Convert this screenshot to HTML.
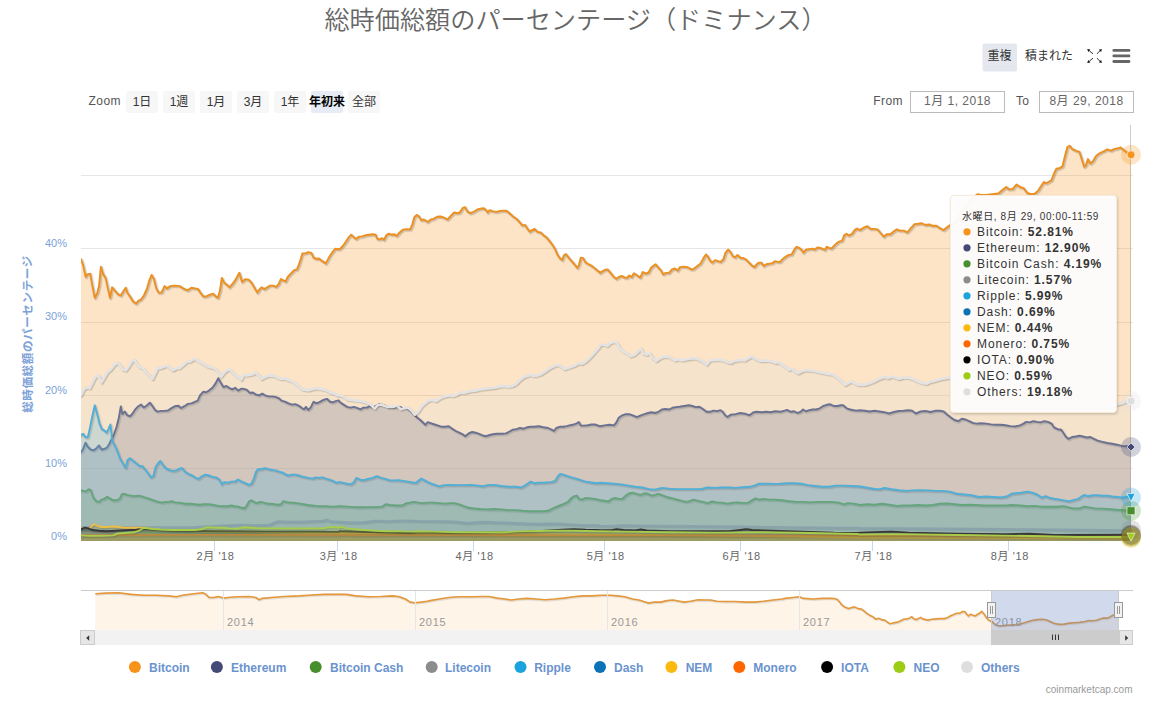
<!DOCTYPE html>
<html lang="ja"><head><meta charset="utf-8"><title>総時価総額のパーセンテージ（ドミナンス）</title>
<style>html,body{margin:0;padding:0;background:#fff;}body{width:1155px;height:709px;overflow:hidden;}svg{display:block;font-family:"Liberation Sans", "Noto Sans CJK JP", sans-serif;}
.jp{font-family:"Liberation Sans","Noto Sans CJK JP",sans-serif;}
</style></head><body>
<svg width="1155" height="709" viewBox="0 0 1155 709">
<rect width="1155" height="709" fill="#ffffff"/>
<text class="jp" x="575.5" y="29.3" text-anchor="middle" font-size="25.16" font-weight="350" fill="#666666">総時価総額のパーセンテージ（ドミナンス）</text>
<rect x="982.5" y="43.5" width="34.5" height="28" rx="2" fill="#e4e8ee"/>
<text class="jp" x="999.5" y="60" text-anchor="middle" font-size="12" fill="#333">重複</text>
<text class="jp" x="1049" y="60" text-anchor="middle" font-size="12" fill="#333">積まれた</text>
<path d="M1093.00 53.80 L1089.28 50.72" stroke="#333" stroke-width="1" fill="none"/><path d="M1087.20 49.00 L1090.36 49.41 L1088.20 52.03 Z" fill="#111"/><path d="M1096.90 53.80 L1099.95 50.87" stroke="#333" stroke-width="1" fill="none"/><path d="M1101.90 49.00 L1101.13 52.10 L1098.77 49.64 Z" fill="#111"/><path d="M1093.00 58.20 L1089.28 61.28" stroke="#333" stroke-width="1" fill="none"/><path d="M1087.20 63.00 L1088.20 59.97 L1090.36 62.59 Z" fill="#111"/><path d="M1096.90 58.20 L1099.95 61.13" stroke="#333" stroke-width="1" fill="none"/><path d="M1101.90 63.00 L1098.77 62.36 L1101.13 59.90 Z" fill="#111"/>
<g stroke="#666" stroke-width="2.8" stroke-linecap="round"><path d="M1113.8 50.400 H1129 M1113.8 55.900 H1129 M1113.8 61.500 H1129"/></g>
<text x="88.4" y="104.800" font-size="12" letter-spacing="0.5" fill="#555">Zoom</text>
<rect x="126" y="91" width="32" height="22" rx="2" fill="#f7f7f7"/>
<text class="jp" x="142" y="105.500" text-anchor="middle" font-size="12" fill="#333">1日</text>
<rect x="163" y="91" width="32" height="22" rx="2" fill="#f7f7f7"/>
<text class="jp" x="179" y="105.500" text-anchor="middle" font-size="12" fill="#333">1週</text>
<rect x="200" y="91" width="32" height="22" rx="2" fill="#f7f7f7"/>
<text class="jp" x="216" y="105.500" text-anchor="middle" font-size="12" fill="#333">1月</text>
<rect x="237" y="91" width="32" height="22" rx="2" fill="#f7f7f7"/>
<text class="jp" x="253" y="105.500" text-anchor="middle" font-size="12" fill="#333">3月</text>
<rect x="274" y="91" width="32" height="22" rx="2" fill="#f7f7f7"/>
<text class="jp" x="290" y="105.500" text-anchor="middle" font-size="12" fill="#333">1年</text>
<rect x="311" y="91" width="32" height="22" rx="2" fill="#e6ebf5"/>
<text class="jp" x="327" y="105.500" text-anchor="middle" font-size="12" fill="#000" font-weight="bold">年初来</text>
<rect x="348" y="91" width="32" height="22" rx="2" fill="#f7f7f7"/>
<text class="jp" x="364" y="105.500" text-anchor="middle" font-size="12" fill="#333">全部</text>
<text x="873.3" y="104.500" font-size="12" letter-spacing="0.4" fill="#555">From</text>
<rect x="910.5" y="91.5" width="94" height="21" fill="#fff" stroke="#bbb"/>
<text class="jp" x="957.5" y="104.800" text-anchor="middle" font-size="12" letter-spacing="0.5" fill="#666">1月 1, 2018</text>
<text x="1016" y="104.500" font-size="12" letter-spacing="0.3" fill="#555">To</text>
<rect x="1039.5" y="91.5" width="94" height="21" fill="#fff" stroke="#bbb"/>
<text class="jp" x="1086.5" y="104.800" text-anchor="middle" font-size="12" letter-spacing="0.5" fill="#666">8月 29, 2018</text>
<path d="M81 175.5 H1133" stroke="#e6e6e6" stroke-width="1"/>
<path d="M81 248.5 H1133" stroke="#e6e6e6" stroke-width="1"/>
<path d="M81 322.5 H1133" stroke="#e6e6e6" stroke-width="1"/>
<path d="M81 395.5 H1133" stroke="#e6e6e6" stroke-width="1"/>
<path d="M81 468.5 H1133" stroke="#e6e6e6" stroke-width="1"/>
<text x="67" y="540.0" text-anchor="end" font-size="11" fill="#7ca2d8">0%</text>
<text x="67" y="466.8" text-anchor="end" font-size="11" fill="#7ca2d8">10%</text>
<text x="67" y="393.6" text-anchor="end" font-size="11" fill="#7ca2d8">20%</text>
<text x="67" y="320.4" text-anchor="end" font-size="11" fill="#7ca2d8">30%</text>
<text x="67" y="247.2" text-anchor="end" font-size="11" fill="#7ca2d8">40%</text>
<text class="jp" transform="translate(31.500 334) rotate(-90)" text-anchor="middle" font-size="11.5" letter-spacing="0.65" font-weight="bold" fill="#7ca2d8">総時価総額のパーセンテージ</text>
<path d="M214.5 541 V551" stroke="#ccd6eb" stroke-width="1"/>
<text class="jp" x="215.5" y="560" text-anchor="middle" font-size="11" letter-spacing="0.6" fill="#666">2月 '18</text>
<path d="M337.5 541 V551" stroke="#ccd6eb" stroke-width="1"/>
<text class="jp" x="338.7" y="560" text-anchor="middle" font-size="11" letter-spacing="0.6" fill="#666">3月 '18</text>
<path d="M473.5 541 V551" stroke="#ccd6eb" stroke-width="1"/>
<text class="jp" x="474.6" y="560" text-anchor="middle" font-size="11" letter-spacing="0.6" fill="#666">4月 '18</text>
<path d="M604.5 541 V551" stroke="#ccd6eb" stroke-width="1"/>
<text class="jp" x="605.7" y="560" text-anchor="middle" font-size="11" letter-spacing="0.6" fill="#666">5月 '18</text>
<path d="M740.5 541 V551" stroke="#ccd6eb" stroke-width="1"/>
<text class="jp" x="741.6" y="560" text-anchor="middle" font-size="11" letter-spacing="0.6" fill="#666">6月 '18</text>
<path d="M872.5 541 V551" stroke="#ccd6eb" stroke-width="1"/>
<text class="jp" x="873.5" y="560" text-anchor="middle" font-size="11" letter-spacing="0.6" fill="#666">7月 '18</text>
<path d="M1008.5 541 V551" stroke="#ccd6eb" stroke-width="1"/>
<text class="jp" x="1009.9" y="560" text-anchor="middle" font-size="11" letter-spacing="0.6" fill="#666">8月 '18</text>
<path d="M1130.5 125 V541" stroke="#cccccc" stroke-width="1"/>
<clipPath id="cp"><rect x="81" y="120" width="1051" height="422"/></clipPath>
<g clip-path="url(#cp)">
<path d="M81.0 259.2 L83.1 265.1 L85.7 276.8 L87.4 274.4 L90.2 273.7 L92.0 283.8 L94.8 297.8 L97.2 293.1 L99.0 286.1 L100.9 266.7 L103.2 274.4 L105.6 277.9 L107.9 288.4 L110.0 297.8 L112.1 287.3 L115.4 291.2 L118.2 294.3 L120.8 295.5 L123.6 290.8 L125.7 287.7 L127.6 293.1 L129.9 296.2 L132.9 301.3 L136.0 303.6 L138.3 300.8 L141.1 299.4 L143.9 295.5 L147.0 288.4 L149.3 280.3 L151.6 274.9 L154.0 279.1 L156.3 288.4 L158.6 292.6 L161.5 292.6 L164.5 286.1 L166.8 288.4 L170.3 286.1 L173.8 285.6 L179.7 286.1 L183.2 288.4 L187.4 290.3 L191.4 287.7 L194.9 288.4 L197.9 288.9 L200.7 293.1 L203.5 296.6 L206.6 296.2 L210.1 294.7 L213.1 293.6 L215.9 296.6 L217.8 297.8 L219.9 290.8 L221.8 277.9 L224.1 282.6 L227.1 284.9 L229.5 287.3 L232.3 284.2 L235.8 279.1 L239.3 272.8 L242.1 281.9 L245.1 279.1 L248.6 279.6 L251.4 282.6 L254.5 287.7 L257.3 292.6 L259.2 289.6 L261.5 287.3 L264.3 289.1 L267.3 287.3 L270.1 285.6 L273.2 285.6 L276.2 286.8 L278.6 284.2 L280.9 279.1 L283.2 280.3 L285.6 281.4 L287.7 276.8 L290.7 273.7 L294.2 270.2 L297.0 269.3 L299.6 262.7 L302.4 253.4 L305.2 253.4 L308.2 252.2 L311.3 252.9 L313.6 257.6 L316.4 258.8 L318.8 258.5 L322.3 261.1 L325.8 263.4 L328.6 258.1 L331.6 253.4 L335.1 248.7 L337.9 249.2 L340.0 248.8 L342.8 246.0 L345.8 241.8 L348.9 237.1 L351.2 234.7 L353.6 237.1 L355.9 238.9 L359.2 236.6 L362.2 236.4 L365.7 235.2 L369.2 234.7 L372.7 234.3 L375.5 234.7 L377.4 238.9 L379.7 239.4 L382.1 238.2 L383.9 239.9 L386.3 235.2 L388.6 233.6 L391.4 234.7 L394.2 234.3 L396.6 235.9 L399.6 232.4 L403.1 229.6 L406.6 229.1 L410.1 229.4 L412.0 225.4 L414.3 217.2 L416.7 214.9 L419.0 216.5 L421.3 220.2 L423.7 219.5 L427.7 221.9 L430.7 219.5 L433.5 218.8 L437.0 216.7 L440.5 216.5 L444.0 217.7 L447.5 219.5 L451.0 215.6 L454.1 212.5 L456.9 213.2 L459.7 212.5 L462.7 207.9 L465.1 207.2 L467.4 211.4 L470.4 213.2 L473.7 211.8 L477.4 209.5 L480.3 208.6 L483.8 208.3 L486.1 210.2 L487.7 212.5 L489.6 210.2 L493.1 211.4 L496.6 211.8 L500.1 210.9 L503.6 210.7 L506.4 210.7 L509.5 213.2 L513.0 216.5 L516.5 218.8 L520.0 222.6 L522.3 225.4 L525.1 224.9 L527.5 228.9 L529.8 231.7 L532.1 230.1 L534.5 228.9 L537.5 231.9 L540.6 232.4 L543.4 235.2 L546.2 237.1 L549.2 240.6 L552.2 244.6 L555.1 249.2 L557.4 254.6 L559.7 258.1 L562.1 260.0 L563.9 255.3 L565.8 254.1 L568.6 257.6 L571.4 260.9 L574.5 264.4 L577.3 267.9 L578.9 265.1 L580.8 257.6 L583.1 258.1 L585.4 262.3 L588.2 264.0 L591.3 265.6 L594.3 267.9 L597.1 270.3 L599.5 272.1 L600.0 272.9 L602.3 271.3 L605.1 269.7 L607.5 269.4 L610.5 272.9 L613.6 276.7 L616.4 278.8 L619.2 276.7 L622.2 276.0 L624.5 277.6 L626.9 277.8 L629.2 275.5 L631.6 277.1 L633.9 273.2 L636.9 275.3 L640.2 277.6 L642.8 272.0 L645.6 273.6 L648.6 272.5 L651.0 267.8 L653.8 265.5 L655.6 264.3 L658.4 267.8 L660.8 270.1 L663.1 274.3 L665.9 272.9 L669.0 272.9 L672.0 269.4 L674.8 268.5 L677.6 270.6 L679.9 267.1 L683.7 266.6 L687.7 267.3 L691.2 269.4 L693.5 269.0 L697.0 266.2 L700.5 263.6 L703.3 258.4 L705.9 254.5 L708.0 256.8 L709.9 260.3 L712.2 262.6 L715.0 260.1 L718.0 261.2 L720.4 261.9 L723.2 259.6 L725.5 252.6 L728.1 249.6 L730.4 251.9 L732.8 256.1 L735.1 257.3 L737.4 254.9 L740.3 257.7 L743.1 258.0 L746.1 259.6 L749.1 262.6 L751.9 265.5 L754.3 267.1 L756.6 264.3 L759.0 262.6 L761.3 262.6 L763.6 265.9 L766.4 264.3 L769.5 263.6 L772.5 263.1 L774.8 261.2 L777.7 261.9 L780.0 261.9 L782.8 258.9 L785.8 256.6 L788.9 254.9 L791.7 254.5 L794.5 249.1 L796.4 246.8 L799.2 247.9 L801.5 249.8 L803.4 252.6 L805.7 249.8 L809.2 249.1 L812.2 248.6 L814.6 249.6 L817.4 247.5 L820.2 247.9 L823.2 249.1 L824.9 249.8 L826.7 246.8 L829.1 247.9 L831.4 248.6 L834.2 245.6 L837.3 242.8 L839.6 241.4 L841.9 240.9 L844.3 235.1 L846.6 233.9 L848.9 235.5 L852.0 233.9 L854.8 229.9 L857.1 228.5 L858.3 229.5 L860.0 229.9 L863.6 227.7 L867.3 226.2 L870.2 228.7 L874.1 228.9 L877.5 229.4 L880.6 233.0 L883.8 236.7 L886.7 234.2 L890.3 234.2 L893.9 231.3 L896.8 229.4 L900.0 230.6 L903.6 230.6 L907.3 232.3 L910.9 228.2 L914.5 224.1 L918.2 223.8 L921.8 223.3 L925.5 225.0 L929.1 224.5 L932.7 225.8 L936.4 225.8 L940.0 228.2 L943.6 230.1 L947.3 227.0 L950.9 224.5 L955.8 222.1 L961.8 210.0 L969.1 201.5 L973.9 196.7 L977.6 194.2 L981.2 195.0 L986.1 195.0 L992.1 194.2 L998.2 193.5 L1001.8 190.6 L1006.2 187.0 L1009.1 189.4 L1012.7 188.9 L1016.4 184.5 L1020.0 187.0 L1023.6 188.2 L1027.3 193.0 L1030.9 194.2 L1034.5 193.8 L1038.2 190.6 L1041.3 185.8 L1043.8 182.1 L1046.2 183.3 L1049.1 181.6 L1051.5 180.2 L1053.9 173.6 L1056.4 168.8 L1059.3 168.3 L1062.4 166.4 L1064.8 156.7 L1067.3 147.0 L1069.7 145.8 L1072.1 148.9 L1075.8 150.6 L1079.4 151.8 L1081.8 159.1 L1084.2 166.8 L1085.9 165.2 L1087.9 159.1 L1090.3 163.5 L1092.7 161.5 L1096.4 155.5 L1100.0 153.0 L1103.6 151.3 L1107.3 149.4 L1110.9 150.6 L1114.5 148.9 L1118.2 148.2 L1120.6 147.5 L1123.0 149.4 L1126.7 152.3 L1131.0 154.5 L1131.0 541.0 L81.0 541.0 Z" fill="#f7931a" fill-opacity="0.25"/>
<path id="sBitcoin" d="M81.0 259.2 L83.1 265.1 L85.7 276.8 L87.4 274.4 L90.2 273.7 L92.0 283.8 L94.8 297.8 L97.2 293.1 L99.0 286.1 L100.9 266.7 L103.2 274.4 L105.6 277.9 L107.9 288.4 L110.0 297.8 L112.1 287.3 L115.4 291.2 L118.2 294.3 L120.8 295.5 L123.6 290.8 L125.7 287.7 L127.6 293.1 L129.9 296.2 L132.9 301.3 L136.0 303.6 L138.3 300.8 L141.1 299.4 L143.9 295.5 L147.0 288.4 L149.3 280.3 L151.6 274.9 L154.0 279.1 L156.3 288.4 L158.6 292.6 L161.5 292.6 L164.5 286.1 L166.8 288.4 L170.3 286.1 L173.8 285.6 L179.7 286.1 L183.2 288.4 L187.4 290.3 L191.4 287.7 L194.9 288.4 L197.9 288.9 L200.7 293.1 L203.5 296.6 L206.6 296.2 L210.1 294.7 L213.1 293.6 L215.9 296.6 L217.8 297.8 L219.9 290.8 L221.8 277.9 L224.1 282.6 L227.1 284.9 L229.5 287.3 L232.3 284.2 L235.8 279.1 L239.3 272.8 L242.1 281.9 L245.1 279.1 L248.6 279.6 L251.4 282.6 L254.5 287.7 L257.3 292.6 L259.2 289.6 L261.5 287.3 L264.3 289.1 L267.3 287.3 L270.1 285.6 L273.2 285.6 L276.2 286.8 L278.6 284.2 L280.9 279.1 L283.2 280.3 L285.6 281.4 L287.7 276.8 L290.7 273.7 L294.2 270.2 L297.0 269.3 L299.6 262.7 L302.4 253.4 L305.2 253.4 L308.2 252.2 L311.3 252.9 L313.6 257.6 L316.4 258.8 L318.8 258.5 L322.3 261.1 L325.8 263.4 L328.6 258.1 L331.6 253.4 L335.1 248.7 L337.9 249.2 L340.0 248.8 L342.8 246.0 L345.8 241.8 L348.9 237.1 L351.2 234.7 L353.6 237.1 L355.9 238.9 L359.2 236.6 L362.2 236.4 L365.7 235.2 L369.2 234.7 L372.7 234.3 L375.5 234.7 L377.4 238.9 L379.7 239.4 L382.1 238.2 L383.9 239.9 L386.3 235.2 L388.6 233.6 L391.4 234.7 L394.2 234.3 L396.6 235.9 L399.6 232.4 L403.1 229.6 L406.6 229.1 L410.1 229.4 L412.0 225.4 L414.3 217.2 L416.7 214.9 L419.0 216.5 L421.3 220.2 L423.7 219.5 L427.7 221.9 L430.7 219.5 L433.5 218.8 L437.0 216.7 L440.5 216.5 L444.0 217.7 L447.5 219.5 L451.0 215.6 L454.1 212.5 L456.9 213.2 L459.7 212.5 L462.7 207.9 L465.1 207.2 L467.4 211.4 L470.4 213.2 L473.7 211.8 L477.4 209.5 L480.3 208.6 L483.8 208.3 L486.1 210.2 L487.7 212.5 L489.6 210.2 L493.1 211.4 L496.6 211.8 L500.1 210.9 L503.6 210.7 L506.4 210.7 L509.5 213.2 L513.0 216.5 L516.5 218.8 L520.0 222.6 L522.3 225.4 L525.1 224.9 L527.5 228.9 L529.8 231.7 L532.1 230.1 L534.5 228.9 L537.5 231.9 L540.6 232.4 L543.4 235.2 L546.2 237.1 L549.2 240.6 L552.2 244.6 L555.1 249.2 L557.4 254.6 L559.7 258.1 L562.1 260.0 L563.9 255.3 L565.8 254.1 L568.6 257.6 L571.4 260.9 L574.5 264.4 L577.3 267.9 L578.9 265.1 L580.8 257.6 L583.1 258.1 L585.4 262.3 L588.2 264.0 L591.3 265.6 L594.3 267.9 L597.1 270.3 L599.5 272.1 L600.0 272.9 L602.3 271.3 L605.1 269.7 L607.5 269.4 L610.5 272.9 L613.6 276.7 L616.4 278.8 L619.2 276.7 L622.2 276.0 L624.5 277.6 L626.9 277.8 L629.2 275.5 L631.6 277.1 L633.9 273.2 L636.9 275.3 L640.2 277.6 L642.8 272.0 L645.6 273.6 L648.6 272.5 L651.0 267.8 L653.8 265.5 L655.6 264.3 L658.4 267.8 L660.8 270.1 L663.1 274.3 L665.9 272.9 L669.0 272.9 L672.0 269.4 L674.8 268.5 L677.6 270.6 L679.9 267.1 L683.7 266.6 L687.7 267.3 L691.2 269.4 L693.5 269.0 L697.0 266.2 L700.5 263.6 L703.3 258.4 L705.9 254.5 L708.0 256.8 L709.9 260.3 L712.2 262.6 L715.0 260.1 L718.0 261.2 L720.4 261.9 L723.2 259.6 L725.5 252.6 L728.1 249.6 L730.4 251.9 L732.8 256.1 L735.1 257.3 L737.4 254.9 L740.3 257.7 L743.1 258.0 L746.1 259.6 L749.1 262.6 L751.9 265.5 L754.3 267.1 L756.6 264.3 L759.0 262.6 L761.3 262.6 L763.6 265.9 L766.4 264.3 L769.5 263.6 L772.5 263.1 L774.8 261.2 L777.7 261.9 L780.0 261.9 L782.8 258.9 L785.8 256.6 L788.9 254.9 L791.7 254.5 L794.5 249.1 L796.4 246.8 L799.2 247.9 L801.5 249.8 L803.4 252.6 L805.7 249.8 L809.2 249.1 L812.2 248.6 L814.6 249.6 L817.4 247.5 L820.2 247.9 L823.2 249.1 L824.9 249.8 L826.7 246.8 L829.1 247.9 L831.4 248.6 L834.2 245.6 L837.3 242.8 L839.6 241.4 L841.9 240.9 L844.3 235.1 L846.6 233.9 L848.9 235.5 L852.0 233.9 L854.8 229.9 L857.1 228.5 L858.3 229.5 L860.0 229.9 L863.6 227.7 L867.3 226.2 L870.2 228.7 L874.1 228.9 L877.5 229.4 L880.6 233.0 L883.8 236.7 L886.7 234.2 L890.3 234.2 L893.9 231.3 L896.8 229.4 L900.0 230.6 L903.6 230.6 L907.3 232.3 L910.9 228.2 L914.5 224.1 L918.2 223.8 L921.8 223.3 L925.5 225.0 L929.1 224.5 L932.7 225.8 L936.4 225.8 L940.0 228.2 L943.6 230.1 L947.3 227.0 L950.9 224.5 L955.8 222.1 L961.8 210.0 L969.1 201.5 L973.9 196.7 L977.6 194.2 L981.2 195.0 L986.1 195.0 L992.1 194.2 L998.2 193.5 L1001.8 190.6 L1006.2 187.0 L1009.1 189.4 L1012.7 188.9 L1016.4 184.5 L1020.0 187.0 L1023.6 188.2 L1027.3 193.0 L1030.9 194.2 L1034.5 193.8 L1038.2 190.6 L1041.3 185.8 L1043.8 182.1 L1046.2 183.3 L1049.1 181.6 L1051.5 180.2 L1053.9 173.6 L1056.4 168.8 L1059.3 168.3 L1062.4 166.4 L1064.8 156.7 L1067.3 147.0 L1069.7 145.8 L1072.1 148.9 L1075.8 150.6 L1079.4 151.8 L1081.8 159.1 L1084.2 166.8 L1085.9 165.2 L1087.9 159.1 L1090.3 163.5 L1092.7 161.5 L1096.4 155.5 L1100.0 153.0 L1103.6 151.3 L1107.3 149.4 L1110.9 150.6 L1114.5 148.9 L1118.2 148.2 L1120.6 147.5 L1123.0 149.4 L1126.7 152.3 L1131.0 154.5" fill="none"/>
<g fill="none" stroke-linejoin="round" stroke-linecap="round"><use href="#sBitcoin" stroke="#000" stroke-opacity="0.05" stroke-width="4" transform="translate(1 1)"/><use href="#sBitcoin" stroke="#000" stroke-opacity="0.13" stroke-width="2.4" transform="translate(1 1)"/><use href="#sBitcoin" stroke="#ed901f" stroke-width="1.9"/></g>
<path d="M81.0 452.1 L83.1 449.0 L85.5 442.7 L87.8 446.7 L90.9 449.7 L93.9 450.2 L96.7 447.9 L99.0 445.5 L101.4 449.5 L104.2 449.0 L107.2 447.4 L109.6 443.2 L111.9 438.5 L114.2 433.8 L116.6 426.8 L118.9 417.5 L120.8 406.5 L122.4 414.0 L124.8 411.6 L127.1 415.1 L129.9 416.3 L132.2 414.0 L135.3 409.3 L138.3 406.2 L141.1 404.6 L143.9 407.6 L147.0 405.3 L149.8 402.7 L152.3 405.8 L155.1 410.0 L157.5 411.6 L161.0 410.9 L164.5 410.9 L168.0 410.5 L171.5 408.1 L175.0 406.2 L178.5 405.8 L180.9 408.1 L184.4 406.2 L187.9 403.9 L191.4 403.4 L194.9 401.8 L197.7 400.6 L200.0 395.3 L203.1 391.8 L206.1 392.2 L208.9 390.6 L212.4 387.8 L215.4 383.6 L218.3 378.2 L220.6 382.4 L223.4 387.1 L226.4 385.9 L229.5 388.2 L232.3 389.4 L235.1 387.8 L238.1 390.6 L241.2 388.7 L244.0 388.9 L246.8 389.9 L249.8 392.9 L252.8 392.5 L256.1 394.6 L259.2 395.3 L262.2 393.6 L265.0 395.3 L268.5 396.4 L272.0 396.4 L275.5 396.9 L279.0 398.3 L281.4 400.6 L284.9 401.6 L288.4 403.4 L291.9 404.6 L295.4 404.1 L298.9 405.8 L301.9 408.1 L304.3 409.3 L305.9 406.9 L308.2 410.0 L310.6 407.6 L313.6 401.8 L316.4 403.4 L319.9 401.8 L323.4 399.9 L326.9 398.8 L330.0 401.8 L332.8 402.3 L335.6 401.1 L338.6 400.4 L340.0 402.3 L343.5 404.6 L347.0 406.9 L350.5 407.6 L354.0 406.9 L357.5 408.1 L360.6 409.3 L363.4 407.6 L366.9 407.6 L369.2 406.2 L372.7 407.6 L376.2 405.8 L379.3 404.1 L382.1 404.6 L385.6 405.8 L389.1 407.6 L393.8 407.6 L398.4 406.9 L401.9 407.6 L406.6 408.1 L410.1 410.5 L413.6 414.0 L417.1 417.5 L420.6 420.3 L423.7 423.3 L425.3 424.9 L427.7 422.1 L431.2 423.3 L434.7 424.5 L438.2 425.6 L441.7 426.8 L445.2 426.8 L448.7 426.3 L452.2 428.7 L455.7 431.0 L459.2 432.7 L462.7 434.3 L465.1 436.2 L468.6 433.4 L472.1 432.0 L475.6 432.7 L479.1 433.8 L482.6 435.5 L486.1 436.2 L489.6 435.0 L493.1 434.3 L496.6 433.8 L501.3 433.8 L506.0 433.4 L509.5 431.5 L513.0 429.6 L516.5 429.2 L520.0 428.0 L523.5 428.7 L527.0 427.3 L530.5 426.8 L534.0 426.8 L538.7 426.3 L543.4 427.3 L548.0 428.0 L551.5 429.6 L553.9 431.0 L556.2 428.0 L559.7 426.8 L563.2 426.8 L566.7 426.1 L570.2 425.2 L573.8 424.5 L576.6 423.3 L578.9 422.1 L580.8 425.6 L584.3 425.6 L587.8 425.2 L591.3 424.5 L594.8 424.5 L598.3 425.6 L600.0 426.3 L604.7 425.4 L609.4 424.7 L614.0 425.4 L616.4 422.3 L618.7 417.7 L622.2 415.3 L625.7 414.2 L629.2 414.2 L632.7 415.3 L636.9 417.2 L640.9 415.3 L644.4 414.2 L647.9 413.0 L651.4 412.3 L654.9 413.0 L658.4 411.8 L661.9 409.5 L665.5 409.0 L669.0 409.5 L672.5 407.8 L676.0 407.1 L679.5 406.7 L684.2 406.0 L688.8 405.3 L692.3 406.0 L695.8 407.1 L699.3 406.7 L702.9 409.0 L706.4 411.8 L709.9 411.8 L713.4 410.6 L716.9 411.1 L720.4 410.2 L722.7 411.8 L725.1 415.3 L727.4 417.0 L730.9 414.6 L735.6 414.2 L740.3 413.0 L744.9 413.7 L749.6 415.3 L753.1 412.5 L756.6 411.8 L761.3 412.3 L766.0 411.8 L770.6 412.3 L775.3 411.3 L780.0 411.8 L784.7 410.6 L787.0 409.9 L790.5 411.8 L794.0 411.3 L797.5 413.0 L800.6 411.8 L802.9 409.5 L805.7 411.3 L809.2 410.2 L812.7 409.5 L816.2 409.5 L819.7 408.3 L823.2 406.0 L826.7 404.8 L830.2 404.3 L833.8 406.0 L837.3 406.0 L840.8 405.3 L843.1 405.3 L846.6 408.3 L850.1 409.5 L853.6 410.2 L857.1 410.6 L860.0 410.3 L864.8 410.8 L869.7 411.5 L874.5 410.8 L879.4 411.5 L884.2 412.2 L889.1 413.5 L893.9 412.0 L898.8 411.0 L903.6 410.8 L908.5 410.3 L912.1 410.8 L915.8 413.5 L920.6 411.5 L925.5 411.0 L930.3 412.0 L935.2 410.8 L940.0 410.8 L943.6 411.5 L947.3 414.7 L950.9 417.6 L954.5 420.0 L958.2 421.2 L961.8 418.8 L965.5 419.5 L969.1 421.2 L972.7 422.9 L976.4 423.6 L981.2 423.2 L986.1 423.6 L990.9 424.4 L995.8 424.8 L1000.6 424.8 L1005.5 425.3 L1010.3 426.1 L1015.2 426.5 L1020.0 425.3 L1023.6 423.6 L1026.1 421.9 L1029.7 422.4 L1033.3 421.2 L1037.0 421.9 L1040.6 422.4 L1044.2 421.2 L1047.9 421.9 L1051.5 423.6 L1053.9 427.3 L1057.6 429.2 L1061.2 429.7 L1063.6 433.3 L1066.1 437.0 L1068.5 438.9 L1072.1 437.0 L1075.8 436.5 L1079.4 435.8 L1083.0 436.5 L1086.7 437.5 L1090.3 437.0 L1093.9 438.9 L1097.6 440.6 L1102.4 441.8 L1107.3 443.0 L1112.1 443.8 L1117.0 444.7 L1121.8 445.9 L1126.7 446.2 L1131.0 446.7 L1131.0 541.0 L81.0 541.0 Z" fill="#434a78" fill-opacity="0.25"/>
<path id="sEthereum" d="M81.0 452.1 L83.1 449.0 L85.5 442.7 L87.8 446.7 L90.9 449.7 L93.9 450.2 L96.7 447.9 L99.0 445.5 L101.4 449.5 L104.2 449.0 L107.2 447.4 L109.6 443.2 L111.9 438.5 L114.2 433.8 L116.6 426.8 L118.9 417.5 L120.8 406.5 L122.4 414.0 L124.8 411.6 L127.1 415.1 L129.9 416.3 L132.2 414.0 L135.3 409.3 L138.3 406.2 L141.1 404.6 L143.9 407.6 L147.0 405.3 L149.8 402.7 L152.3 405.8 L155.1 410.0 L157.5 411.6 L161.0 410.9 L164.5 410.9 L168.0 410.5 L171.5 408.1 L175.0 406.2 L178.5 405.8 L180.9 408.1 L184.4 406.2 L187.9 403.9 L191.4 403.4 L194.9 401.8 L197.7 400.6 L200.0 395.3 L203.1 391.8 L206.1 392.2 L208.9 390.6 L212.4 387.8 L215.4 383.6 L218.3 378.2 L220.6 382.4 L223.4 387.1 L226.4 385.9 L229.5 388.2 L232.3 389.4 L235.1 387.8 L238.1 390.6 L241.2 388.7 L244.0 388.9 L246.8 389.9 L249.8 392.9 L252.8 392.5 L256.1 394.6 L259.2 395.3 L262.2 393.6 L265.0 395.3 L268.5 396.4 L272.0 396.4 L275.5 396.9 L279.0 398.3 L281.4 400.6 L284.9 401.6 L288.4 403.4 L291.9 404.6 L295.4 404.1 L298.9 405.8 L301.9 408.1 L304.3 409.3 L305.9 406.9 L308.2 410.0 L310.6 407.6 L313.6 401.8 L316.4 403.4 L319.9 401.8 L323.4 399.9 L326.9 398.8 L330.0 401.8 L332.8 402.3 L335.6 401.1 L338.6 400.4 L340.0 402.3 L343.5 404.6 L347.0 406.9 L350.5 407.6 L354.0 406.9 L357.5 408.1 L360.6 409.3 L363.4 407.6 L366.9 407.6 L369.2 406.2 L372.7 407.6 L376.2 405.8 L379.3 404.1 L382.1 404.6 L385.6 405.8 L389.1 407.6 L393.8 407.6 L398.4 406.9 L401.9 407.6 L406.6 408.1 L410.1 410.5 L413.6 414.0 L417.1 417.5 L420.6 420.3 L423.7 423.3 L425.3 424.9 L427.7 422.1 L431.2 423.3 L434.7 424.5 L438.2 425.6 L441.7 426.8 L445.2 426.8 L448.7 426.3 L452.2 428.7 L455.7 431.0 L459.2 432.7 L462.7 434.3 L465.1 436.2 L468.6 433.4 L472.1 432.0 L475.6 432.7 L479.1 433.8 L482.6 435.5 L486.1 436.2 L489.6 435.0 L493.1 434.3 L496.6 433.8 L501.3 433.8 L506.0 433.4 L509.5 431.5 L513.0 429.6 L516.5 429.2 L520.0 428.0 L523.5 428.7 L527.0 427.3 L530.5 426.8 L534.0 426.8 L538.7 426.3 L543.4 427.3 L548.0 428.0 L551.5 429.6 L553.9 431.0 L556.2 428.0 L559.7 426.8 L563.2 426.8 L566.7 426.1 L570.2 425.2 L573.8 424.5 L576.6 423.3 L578.9 422.1 L580.8 425.6 L584.3 425.6 L587.8 425.2 L591.3 424.5 L594.8 424.5 L598.3 425.6 L600.0 426.3 L604.7 425.4 L609.4 424.7 L614.0 425.4 L616.4 422.3 L618.7 417.7 L622.2 415.3 L625.7 414.2 L629.2 414.2 L632.7 415.3 L636.9 417.2 L640.9 415.3 L644.4 414.2 L647.9 413.0 L651.4 412.3 L654.9 413.0 L658.4 411.8 L661.9 409.5 L665.5 409.0 L669.0 409.5 L672.5 407.8 L676.0 407.1 L679.5 406.7 L684.2 406.0 L688.8 405.3 L692.3 406.0 L695.8 407.1 L699.3 406.7 L702.9 409.0 L706.4 411.8 L709.9 411.8 L713.4 410.6 L716.9 411.1 L720.4 410.2 L722.7 411.8 L725.1 415.3 L727.4 417.0 L730.9 414.6 L735.6 414.2 L740.3 413.0 L744.9 413.7 L749.6 415.3 L753.1 412.5 L756.6 411.8 L761.3 412.3 L766.0 411.8 L770.6 412.3 L775.3 411.3 L780.0 411.8 L784.7 410.6 L787.0 409.9 L790.5 411.8 L794.0 411.3 L797.5 413.0 L800.6 411.8 L802.9 409.5 L805.7 411.3 L809.2 410.2 L812.7 409.5 L816.2 409.5 L819.7 408.3 L823.2 406.0 L826.7 404.8 L830.2 404.3 L833.8 406.0 L837.3 406.0 L840.8 405.3 L843.1 405.3 L846.6 408.3 L850.1 409.5 L853.6 410.2 L857.1 410.6 L860.0 410.3 L864.8 410.8 L869.7 411.5 L874.5 410.8 L879.4 411.5 L884.2 412.2 L889.1 413.5 L893.9 412.0 L898.8 411.0 L903.6 410.8 L908.5 410.3 L912.1 410.8 L915.8 413.5 L920.6 411.5 L925.5 411.0 L930.3 412.0 L935.2 410.8 L940.0 410.8 L943.6 411.5 L947.3 414.7 L950.9 417.6 L954.5 420.0 L958.2 421.2 L961.8 418.8 L965.5 419.5 L969.1 421.2 L972.7 422.9 L976.4 423.6 L981.2 423.2 L986.1 423.6 L990.9 424.4 L995.8 424.8 L1000.6 424.8 L1005.5 425.3 L1010.3 426.1 L1015.2 426.5 L1020.0 425.3 L1023.6 423.6 L1026.1 421.9 L1029.7 422.4 L1033.3 421.2 L1037.0 421.9 L1040.6 422.4 L1044.2 421.2 L1047.9 421.9 L1051.5 423.6 L1053.9 427.3 L1057.6 429.2 L1061.2 429.7 L1063.6 433.3 L1066.1 437.0 L1068.5 438.9 L1072.1 437.0 L1075.8 436.5 L1079.4 435.8 L1083.0 436.5 L1086.7 437.5 L1090.3 437.0 L1093.9 438.9 L1097.6 440.6 L1102.4 441.8 L1107.3 443.0 L1112.1 443.8 L1117.0 444.7 L1121.8 445.9 L1126.7 446.2 L1131.0 446.7" fill="none"/>
<g fill="none" stroke-linejoin="round" stroke-linecap="round"><use href="#sEthereum" stroke="#000" stroke-opacity="0.05" stroke-width="4" transform="translate(1 1)"/><use href="#sEthereum" stroke="#000" stroke-opacity="0.13" stroke-width="2.4" transform="translate(1 1)"/><use href="#sEthereum" stroke="#454c77" stroke-width="1.9"/></g>
<path d="M81.0 490.3 L83.8 491.0 L86.2 491.4 L88.5 489.1 L90.9 490.3 L93.2 497.3 L96.2 501.2 L99.0 501.9 L101.4 499.6 L104.2 498.9 L107.2 496.8 L110.3 498.9 L113.1 500.3 L116.6 500.3 L119.6 498.9 L121.9 494.2 L124.3 493.8 L127.1 494.9 L130.6 495.6 L134.1 496.1 L137.6 495.6 L141.1 496.1 L144.6 497.3 L148.1 498.4 L151.6 499.6 L155.1 500.8 L158.6 501.9 L162.2 502.6 L165.7 501.9 L169.2 501.9 L171.5 501.2 L175.0 502.4 L178.5 502.6 L182.0 503.1 L185.5 503.8 L190.2 503.6 L194.9 504.3 L199.6 504.7 L204.2 504.3 L208.9 504.3 L213.6 505.0 L218.3 505.9 L222.9 506.2 L227.6 506.2 L231.1 505.5 L234.6 506.2 L238.1 506.6 L241.6 507.8 L244.4 508.3 L246.8 505.5 L249.1 501.2 L251.4 500.3 L253.8 501.9 L256.8 503.1 L260.3 501.9 L263.8 502.6 L267.3 503.6 L270.8 503.8 L274.4 504.3 L277.9 504.7 L280.9 504.3 L283.2 501.2 L286.0 501.9 L289.5 502.6 L293.1 502.6 L296.6 503.1 L300.1 503.6 L303.6 504.3 L307.1 505.0 L311.8 505.5 L316.4 505.9 L321.1 506.2 L325.8 506.2 L330.5 506.6 L335.1 506.6 L338.6 506.2 L340.0 506.2 L347.0 506.6 L354.0 507.1 L361.0 507.3 L368.1 507.1 L375.1 507.1 L382.1 506.6 L385.6 504.3 L390.3 505.0 L396.1 505.5 L401.9 505.5 L406.6 503.1 L410.1 502.6 L413.6 501.9 L418.3 502.6 L423.0 503.1 L427.7 502.6 L433.5 502.6 L439.3 503.1 L445.2 503.6 L451.0 503.1 L454.5 503.1 L459.2 504.3 L463.9 506.2 L468.6 507.8 L474.4 508.5 L480.3 509.0 L487.3 509.4 L494.3 509.0 L501.3 509.4 L508.3 510.1 L515.3 510.1 L522.3 510.8 L529.3 511.3 L536.4 511.3 L543.4 511.3 L548.0 510.8 L551.5 509.0 L555.1 507.3 L559.7 505.5 L564.4 503.6 L567.9 501.9 L571.4 498.0 L574.5 496.1 L576.8 495.6 L578.9 498.9 L581.9 499.6 L585.4 498.0 L590.1 498.4 L594.8 498.9 L598.3 499.6 L600.0 500.3 L604.7 500.8 L608.2 501.5 L611.7 498.9 L615.2 498.0 L618.7 498.9 L622.2 498.9 L625.7 495.6 L629.2 493.3 L632.7 492.6 L637.4 494.2 L640.9 494.9 L644.4 493.3 L647.9 493.8 L651.4 495.6 L654.9 494.9 L658.4 493.8 L663.1 495.6 L667.8 497.3 L672.5 498.4 L677.1 499.6 L681.8 500.8 L686.5 501.9 L690.0 500.8 L693.5 499.6 L698.2 500.8 L702.9 501.9 L707.5 503.1 L712.2 501.5 L716.9 502.4 L721.6 502.6 L727.4 503.6 L733.2 502.6 L737.9 502.4 L743.8 503.1 L748.4 502.6 L751.9 500.3 L755.4 498.4 L759.0 499.6 L763.6 498.9 L768.3 499.6 L775.3 499.6 L782.3 500.3 L789.3 501.2 L796.4 501.9 L803.4 501.9 L810.4 502.4 L817.4 501.9 L824.4 501.9 L831.4 501.9 L838.4 502.6 L844.3 504.3 L847.8 503.1 L852.5 503.6 L857.1 504.3 L860.0 505.0 L867.3 504.2 L874.5 504.7 L881.8 503.8 L889.1 504.7 L896.4 505.9 L903.6 505.5 L910.9 505.5 L918.2 505.0 L925.5 505.5 L932.7 505.0 L940.0 503.8 L947.3 503.5 L954.5 504.2 L961.8 505.0 L969.1 504.7 L976.4 505.0 L983.6 505.5 L990.9 505.5 L998.2 505.5 L1005.5 505.5 L1012.7 505.0 L1020.0 505.5 L1027.3 506.2 L1034.5 505.9 L1041.8 506.7 L1049.1 506.7 L1056.4 506.7 L1063.6 506.2 L1068.5 507.4 L1073.3 508.4 L1079.4 508.4 L1084.2 506.7 L1089.1 507.4 L1095.2 508.4 L1102.4 508.6 L1109.7 509.1 L1117.0 509.8 L1124.2 510.3 L1131.0 510.8 L1131.0 541.0 L81.0 541.0 Z" fill="#478f2d" fill-opacity="0.25"/>
<path id="sBitcoinCash" d="M81.0 490.3 L83.8 491.0 L86.2 491.4 L88.5 489.1 L90.9 490.3 L93.2 497.3 L96.2 501.2 L99.0 501.9 L101.4 499.6 L104.2 498.9 L107.2 496.8 L110.3 498.9 L113.1 500.3 L116.6 500.3 L119.6 498.9 L121.9 494.2 L124.3 493.8 L127.1 494.9 L130.6 495.6 L134.1 496.1 L137.6 495.6 L141.1 496.1 L144.6 497.3 L148.1 498.4 L151.6 499.6 L155.1 500.8 L158.6 501.9 L162.2 502.6 L165.7 501.9 L169.2 501.9 L171.5 501.2 L175.0 502.4 L178.5 502.6 L182.0 503.1 L185.5 503.8 L190.2 503.6 L194.9 504.3 L199.6 504.7 L204.2 504.3 L208.9 504.3 L213.6 505.0 L218.3 505.9 L222.9 506.2 L227.6 506.2 L231.1 505.5 L234.6 506.2 L238.1 506.6 L241.6 507.8 L244.4 508.3 L246.8 505.5 L249.1 501.2 L251.4 500.3 L253.8 501.9 L256.8 503.1 L260.3 501.9 L263.8 502.6 L267.3 503.6 L270.8 503.8 L274.4 504.3 L277.9 504.7 L280.9 504.3 L283.2 501.2 L286.0 501.9 L289.5 502.6 L293.1 502.6 L296.6 503.1 L300.1 503.6 L303.6 504.3 L307.1 505.0 L311.8 505.5 L316.4 505.9 L321.1 506.2 L325.8 506.2 L330.5 506.6 L335.1 506.6 L338.6 506.2 L340.0 506.2 L347.0 506.6 L354.0 507.1 L361.0 507.3 L368.1 507.1 L375.1 507.1 L382.1 506.6 L385.6 504.3 L390.3 505.0 L396.1 505.5 L401.9 505.5 L406.6 503.1 L410.1 502.6 L413.6 501.9 L418.3 502.6 L423.0 503.1 L427.7 502.6 L433.5 502.6 L439.3 503.1 L445.2 503.6 L451.0 503.1 L454.5 503.1 L459.2 504.3 L463.9 506.2 L468.6 507.8 L474.4 508.5 L480.3 509.0 L487.3 509.4 L494.3 509.0 L501.3 509.4 L508.3 510.1 L515.3 510.1 L522.3 510.8 L529.3 511.3 L536.4 511.3 L543.4 511.3 L548.0 510.8 L551.5 509.0 L555.1 507.3 L559.7 505.5 L564.4 503.6 L567.9 501.9 L571.4 498.0 L574.5 496.1 L576.8 495.6 L578.9 498.9 L581.9 499.6 L585.4 498.0 L590.1 498.4 L594.8 498.9 L598.3 499.6 L600.0 500.3 L604.7 500.8 L608.2 501.5 L611.7 498.9 L615.2 498.0 L618.7 498.9 L622.2 498.9 L625.7 495.6 L629.2 493.3 L632.7 492.6 L637.4 494.2 L640.9 494.9 L644.4 493.3 L647.9 493.8 L651.4 495.6 L654.9 494.9 L658.4 493.8 L663.1 495.6 L667.8 497.3 L672.5 498.4 L677.1 499.6 L681.8 500.8 L686.5 501.9 L690.0 500.8 L693.5 499.6 L698.2 500.8 L702.9 501.9 L707.5 503.1 L712.2 501.5 L716.9 502.4 L721.6 502.6 L727.4 503.6 L733.2 502.6 L737.9 502.4 L743.8 503.1 L748.4 502.6 L751.9 500.3 L755.4 498.4 L759.0 499.6 L763.6 498.9 L768.3 499.6 L775.3 499.6 L782.3 500.3 L789.3 501.2 L796.4 501.9 L803.4 501.9 L810.4 502.4 L817.4 501.9 L824.4 501.9 L831.4 501.9 L838.4 502.6 L844.3 504.3 L847.8 503.1 L852.5 503.6 L857.1 504.3 L860.0 505.0 L867.3 504.2 L874.5 504.7 L881.8 503.8 L889.1 504.7 L896.4 505.9 L903.6 505.5 L910.9 505.5 L918.2 505.0 L925.5 505.5 L932.7 505.0 L940.0 503.8 L947.3 503.5 L954.5 504.2 L961.8 505.0 L969.1 504.7 L976.4 505.0 L983.6 505.5 L990.9 505.5 L998.2 505.5 L1005.5 505.5 L1012.7 505.0 L1020.0 505.5 L1027.3 506.2 L1034.5 505.9 L1041.8 506.7 L1049.1 506.7 L1056.4 506.7 L1063.6 506.2 L1068.5 507.4 L1073.3 508.4 L1079.4 508.4 L1084.2 506.7 L1089.1 507.4 L1095.2 508.4 L1102.4 508.6 L1109.7 509.1 L1117.0 509.8 L1124.2 510.3 L1131.0 510.8" fill="none"/>
<g fill="none" stroke-linejoin="round" stroke-linecap="round"><use href="#sBitcoinCash" stroke="#000" stroke-opacity="0.05" stroke-width="4" transform="translate(1 1)"/><use href="#sBitcoinCash" stroke="#000" stroke-opacity="0.13" stroke-width="2.4" transform="translate(1 1)"/><use href="#sBitcoinCash" stroke="#498c31" stroke-width="1.9"/></g>
<path d="M81.0 527.0 L101.4 527.0 L148.1 527.2 L194.9 527.0 L227.6 525.3 L241.6 524.6 L255.7 525.3 L269.7 524.6 L274.4 522.3 L279.0 521.3 L288.4 521.8 L300.1 521.8 L311.8 521.3 L323.4 520.6 L326.9 519.5 L330.5 521.3 L338.6 521.8 L340.0 521.8 L351.7 522.5 L363.4 522.3 L375.1 520.6 L386.8 521.1 L398.4 520.6 L410.1 520.6 L421.8 521.1 L433.5 521.1 L445.2 521.3 L456.9 521.8 L466.2 523.0 L475.6 522.3 L484.9 521.8 L494.3 522.3 L503.6 522.5 L515.3 523.0 L527.0 523.5 L538.7 523.7 L550.4 523.5 L562.1 523.7 L573.8 524.6 L585.4 525.3 L597.1 525.3 L600.0 525.8 L611.7 526.0 L623.4 525.3 L646.8 525.8 L693.5 526.0 L740.3 526.5 L787.0 527.2 L833.8 527.7 L857.1 527.7 L860.0 528.0 L932.7 528.5 L1005.5 529.0 L1078.2 529.7 L1131.0 530.2 L1131.0 541.0 L81.0 541.0 Z" fill="#8c8c8c" fill-opacity="0.25"/>
<path id="sLitecoin" d="M81.0 527.0 L101.4 527.0 L148.1 527.2 L194.9 527.0 L227.6 525.3 L241.6 524.6 L255.7 525.3 L269.7 524.6 L274.4 522.3 L279.0 521.3 L288.4 521.8 L300.1 521.8 L311.8 521.3 L323.4 520.6 L326.9 519.5 L330.5 521.3 L338.6 521.8 L340.0 521.8 L351.7 522.5 L363.4 522.3 L375.1 520.6 L386.8 521.1 L398.4 520.6 L410.1 520.6 L421.8 521.1 L433.5 521.1 L445.2 521.3 L456.9 521.8 L466.2 523.0 L475.6 522.3 L484.9 521.8 L494.3 522.3 L503.6 522.5 L515.3 523.0 L527.0 523.5 L538.7 523.7 L550.4 523.5 L562.1 523.7 L573.8 524.6 L585.4 525.3 L597.1 525.3 L600.0 525.8 L611.7 526.0 L623.4 525.3 L646.8 525.8 L693.5 526.0 L740.3 526.5 L787.0 527.2 L833.8 527.7 L857.1 527.7 L860.0 528.0 L932.7 528.5 L1005.5 529.0 L1078.2 529.7 L1131.0 530.2" fill="none"/>
<g fill="none" stroke-linejoin="round" stroke-linecap="round"><use href="#sLitecoin" stroke="#000" stroke-opacity="0.05" stroke-width="4" transform="translate(1 1)"/><use href="#sLitecoin" stroke="#000" stroke-opacity="0.13" stroke-width="2.4" transform="translate(1 1)"/><use href="#sLitecoin" stroke="#898989" stroke-width="1.9"/></g>
<path d="M81.0 435.0 L83.1 433.8 L85.5 437.3 L87.8 437.3 L90.2 426.8 L92.5 415.1 L94.8 405.3 L97.2 414.0 L99.5 423.3 L101.8 429.2 L104.2 430.3 L106.5 432.7 L108.4 429.2 L110.3 424.5 L111.4 431.5 L112.1 440.8 L113.1 442.3 L116.6 449.4 L120.1 458.7 L122.9 463.4 L125.5 468.1 L127.6 459.9 L129.9 458.2 L132.9 460.6 L136.4 463.4 L139.2 465.7 L142.3 466.2 L145.8 470.4 L148.6 473.9 L150.9 477.4 L153.3 476.2 L155.6 466.9 L157.9 463.4 L160.3 461.0 L162.6 464.5 L165.7 468.1 L169.2 469.9 L172.7 470.9 L176.2 470.4 L179.7 468.5 L182.0 468.1 L185.1 471.6 L188.3 473.9 L191.4 475.1 L194.9 477.4 L198.4 479.0 L201.9 476.2 L205.4 474.6 L208.9 475.5 L212.4 476.9 L215.9 477.4 L219.4 479.7 L221.8 484.4 L224.1 482.1 L227.6 482.8 L231.1 481.6 L234.6 481.6 L238.1 479.7 L241.6 481.6 L245.1 483.2 L248.6 484.9 L251.4 483.9 L253.8 478.6 L256.1 471.6 L258.0 469.2 L261.5 469.2 L265.0 468.1 L268.5 469.2 L272.0 469.9 L275.5 470.4 L279.0 471.6 L282.5 472.7 L286.0 474.6 L288.4 475.5 L291.9 474.6 L295.4 474.6 L298.9 475.5 L302.4 476.7 L305.9 477.4 L309.4 478.1 L312.9 478.6 L315.3 477.4 L318.8 477.9 L322.3 477.4 L325.8 478.6 L329.3 479.7 L332.8 480.9 L336.3 482.8 L338.6 482.3 L340.0 482.1 L344.7 483.2 L350.5 484.4 L353.6 482.5 L356.4 477.9 L359.9 479.7 L363.4 480.2 L368.1 479.0 L372.7 477.9 L376.9 476.2 L380.9 477.9 L384.4 478.6 L389.1 480.2 L393.8 480.4 L398.4 480.2 L403.1 480.9 L407.8 481.6 L412.5 482.5 L416.0 482.8 L419.0 480.2 L421.3 478.6 L424.2 480.2 L427.7 482.1 L431.2 483.7 L435.8 485.1 L439.3 486.3 L444.0 485.1 L449.9 484.9 L456.9 485.1 L463.9 485.1 L470.9 484.9 L477.9 485.6 L482.6 486.3 L487.3 485.1 L494.3 484.9 L501.3 486.0 L508.3 486.8 L515.3 486.8 L521.2 487.5 L524.7 485.6 L528.2 483.2 L530.5 481.6 L534.0 483.2 L538.7 482.8 L545.7 482.5 L551.5 482.1 L555.1 480.9 L557.9 476.2 L560.2 473.9 L563.2 474.6 L566.7 475.8 L571.4 477.4 L576.1 478.6 L580.8 480.2 L585.4 481.6 L591.3 482.5 L597.1 483.2 L600.0 482.8 L607.0 483.2 L614.0 483.7 L621.0 484.4 L628.1 485.6 L635.1 486.8 L642.1 487.5 L649.1 489.1 L654.9 489.6 L661.9 487.9 L669.0 488.6 L676.0 489.1 L684.2 489.1 L693.5 489.1 L700.5 489.1 L707.5 487.5 L714.5 487.9 L721.6 487.5 L728.6 487.5 L735.6 487.9 L742.6 487.2 L749.6 486.8 L754.3 485.6 L759.0 483.7 L766.0 483.7 L773.0 483.9 L780.0 483.7 L787.0 483.2 L794.0 483.2 L801.0 483.7 L808.0 485.1 L815.1 486.0 L822.1 486.8 L829.1 486.8 L836.1 485.6 L843.1 485.6 L850.1 486.0 L857.1 486.3 L860.0 486.5 L867.3 487.8 L874.5 489.0 L880.6 489.2 L884.2 488.0 L891.5 489.2 L898.8 490.2 L906.1 490.9 L913.3 490.4 L920.6 490.2 L927.9 490.4 L935.2 490.9 L942.4 490.9 L949.7 491.6 L957.0 493.8 L964.2 494.5 L971.5 495.3 L978.8 497.0 L986.1 496.5 L993.3 497.0 L1000.6 497.5 L1006.7 496.5 L1011.5 493.8 L1016.4 493.3 L1021.2 492.8 L1027.3 491.6 L1032.1 492.6 L1037.0 494.5 L1041.8 497.7 L1045.5 496.2 L1049.1 497.7 L1053.9 498.7 L1058.8 499.4 L1064.8 500.6 L1068.5 501.3 L1073.3 500.1 L1078.2 498.9 L1081.8 496.2 L1084.2 495.0 L1087.9 496.2 L1092.7 495.3 L1097.6 495.3 L1102.4 495.8 L1107.3 495.8 L1112.1 496.5 L1117.0 497.0 L1121.8 497.5 L1126.7 497.0 L1131.0 497.0 L1131.0 541.0 L81.0 541.0 Z" fill="#1aa3dd" fill-opacity="0.25"/>
<path id="sRipple" d="M81.0 435.0 L83.1 433.8 L85.5 437.3 L87.8 437.3 L90.2 426.8 L92.5 415.1 L94.8 405.3 L97.2 414.0 L99.5 423.3 L101.8 429.2 L104.2 430.3 L106.5 432.7 L108.4 429.2 L110.3 424.5 L111.4 431.5 L112.1 440.8 L113.1 442.3 L116.6 449.4 L120.1 458.7 L122.9 463.4 L125.5 468.1 L127.6 459.9 L129.9 458.2 L132.9 460.6 L136.4 463.4 L139.2 465.7 L142.3 466.2 L145.8 470.4 L148.6 473.9 L150.9 477.4 L153.3 476.2 L155.6 466.9 L157.9 463.4 L160.3 461.0 L162.6 464.5 L165.7 468.1 L169.2 469.9 L172.7 470.9 L176.2 470.4 L179.7 468.5 L182.0 468.1 L185.1 471.6 L188.3 473.9 L191.4 475.1 L194.9 477.4 L198.4 479.0 L201.9 476.2 L205.4 474.6 L208.9 475.5 L212.4 476.9 L215.9 477.4 L219.4 479.7 L221.8 484.4 L224.1 482.1 L227.6 482.8 L231.1 481.6 L234.6 481.6 L238.1 479.7 L241.6 481.6 L245.1 483.2 L248.6 484.9 L251.4 483.9 L253.8 478.6 L256.1 471.6 L258.0 469.2 L261.5 469.2 L265.0 468.1 L268.5 469.2 L272.0 469.9 L275.5 470.4 L279.0 471.6 L282.5 472.7 L286.0 474.6 L288.4 475.5 L291.9 474.6 L295.4 474.6 L298.9 475.5 L302.4 476.7 L305.9 477.4 L309.4 478.1 L312.9 478.6 L315.3 477.4 L318.8 477.9 L322.3 477.4 L325.8 478.6 L329.3 479.7 L332.8 480.9 L336.3 482.8 L338.6 482.3 L340.0 482.1 L344.7 483.2 L350.5 484.4 L353.6 482.5 L356.4 477.9 L359.9 479.7 L363.4 480.2 L368.1 479.0 L372.7 477.9 L376.9 476.2 L380.9 477.9 L384.4 478.6 L389.1 480.2 L393.8 480.4 L398.4 480.2 L403.1 480.9 L407.8 481.6 L412.5 482.5 L416.0 482.8 L419.0 480.2 L421.3 478.6 L424.2 480.2 L427.7 482.1 L431.2 483.7 L435.8 485.1 L439.3 486.3 L444.0 485.1 L449.9 484.9 L456.9 485.1 L463.9 485.1 L470.9 484.9 L477.9 485.6 L482.6 486.3 L487.3 485.1 L494.3 484.9 L501.3 486.0 L508.3 486.8 L515.3 486.8 L521.2 487.5 L524.7 485.6 L528.2 483.2 L530.5 481.6 L534.0 483.2 L538.7 482.8 L545.7 482.5 L551.5 482.1 L555.1 480.9 L557.9 476.2 L560.2 473.9 L563.2 474.6 L566.7 475.8 L571.4 477.4 L576.1 478.6 L580.8 480.2 L585.4 481.6 L591.3 482.5 L597.1 483.2 L600.0 482.8 L607.0 483.2 L614.0 483.7 L621.0 484.4 L628.1 485.6 L635.1 486.8 L642.1 487.5 L649.1 489.1 L654.9 489.6 L661.9 487.9 L669.0 488.6 L676.0 489.1 L684.2 489.1 L693.5 489.1 L700.5 489.1 L707.5 487.5 L714.5 487.9 L721.6 487.5 L728.6 487.5 L735.6 487.9 L742.6 487.2 L749.6 486.8 L754.3 485.6 L759.0 483.7 L766.0 483.7 L773.0 483.9 L780.0 483.7 L787.0 483.2 L794.0 483.2 L801.0 483.7 L808.0 485.1 L815.1 486.0 L822.1 486.8 L829.1 486.8 L836.1 485.6 L843.1 485.6 L850.1 486.0 L857.1 486.3 L860.0 486.5 L867.3 487.8 L874.5 489.0 L880.6 489.2 L884.2 488.0 L891.5 489.2 L898.8 490.2 L906.1 490.9 L913.3 490.4 L920.6 490.2 L927.9 490.4 L935.2 490.9 L942.4 490.9 L949.7 491.6 L957.0 493.8 L964.2 494.5 L971.5 495.3 L978.8 497.0 L986.1 496.5 L993.3 497.0 L1000.6 497.5 L1006.7 496.5 L1011.5 493.8 L1016.4 493.3 L1021.2 492.8 L1027.3 491.6 L1032.1 492.6 L1037.0 494.5 L1041.8 497.7 L1045.5 496.2 L1049.1 497.7 L1053.9 498.7 L1058.8 499.4 L1064.8 500.6 L1068.5 501.3 L1073.3 500.1 L1078.2 498.9 L1081.8 496.2 L1084.2 495.0 L1087.9 496.2 L1092.7 495.3 L1097.6 495.3 L1102.4 495.8 L1107.3 495.8 L1112.1 496.5 L1117.0 497.0 L1121.8 497.5 L1126.7 497.0 L1131.0 497.0" fill="none"/>
<g fill="none" stroke-linejoin="round" stroke-linecap="round"><use href="#sRipple" stroke="#000" stroke-opacity="0.05" stroke-width="4" transform="translate(1 1)"/><use href="#sRipple" stroke="#000" stroke-opacity="0.13" stroke-width="2.4" transform="translate(1 1)"/><use href="#sRipple" stroke="#1f9fd5" stroke-width="1.9"/></g>
<path d="M81.0 529.8 L124.8 531.4 L171.5 532.8 L265.0 534.0 L338.6 534.4 L340.0 534.4 L456.9 534.9 L597.1 535.1 L600.0 535.1 L716.9 535.6 L857.1 536.1 L860.0 536.0 L1005.5 536.2 L1131.0 536.2 L1131.0 541.0 L81.0 541.0 Z" fill="#0b72b5" fill-opacity="0.25"/>
<path id="sDash" d="M81.0 529.8 L124.8 531.4 L171.5 532.8 L265.0 534.0 L338.6 534.4 L340.0 534.4 L456.9 534.9 L597.1 535.1 L600.0 535.1 L716.9 535.6 L857.1 536.1 L860.0 536.0 L1005.5 536.2 L1131.0 536.2" fill="none"/>
<g fill="none" stroke-linejoin="round" stroke-linecap="round"><use href="#sDash" stroke="#000" stroke-opacity="0.05" stroke-width="4" transform="translate(1 1)"/><use href="#sDash" stroke="#000" stroke-opacity="0.13" stroke-width="2.4" transform="translate(1 1)"/><use href="#sDash" stroke="#1171af" stroke-width="1.9"/></g>
<path d="M81.0 528.4 L89.7 528.4 L92.5 525.3 L94.8 524.2 L97.9 526.0 L101.4 527.0 L107.2 527.0 L113.1 526.5 L118.9 527.0 L124.8 527.7 L136.4 527.7 L143.5 527.7 L148.1 528.4 L159.8 529.8 L194.9 531.2 L265.0 532.3 L338.6 533.0 L340.0 533.0 L456.9 534.0 L597.1 534.4 L600.0 534.4 L740.3 535.8 L857.1 537.5 L860.0 537.5 L1005.5 537.9 L1131.0 538.2 L1131.0 541.0 L81.0 541.0 Z" fill="#f9b90f" fill-opacity="0.25"/>
<path id="sNEM" d="M81.0 528.4 L89.7 528.4 L92.5 525.3 L94.8 524.2 L97.9 526.0 L101.4 527.0 L107.2 527.0 L113.1 526.5 L118.9 527.0 L124.8 527.7 L136.4 527.7 L143.5 527.7 L148.1 528.4 L159.8 529.8 L194.9 531.2 L265.0 532.3 L338.6 533.0 L340.0 533.0 L456.9 534.0 L597.1 534.4 L600.0 534.4 L740.3 535.8 L857.1 537.5 L860.0 537.5 L1005.5 537.9 L1131.0 538.2" fill="none"/>
<g fill="none" stroke-linejoin="round" stroke-linecap="round"><use href="#sNEM" stroke="#000" stroke-opacity="0.05" stroke-width="4" transform="translate(1 1)"/><use href="#sNEM" stroke="#000" stroke-opacity="0.13" stroke-width="2.4" transform="translate(1 1)"/><use href="#sNEM" stroke="#efb315" stroke-width="1.9"/></g>
<path d="M81.0 535.1 L141.1 535.1 L152.8 534.9 L265.0 534.9 L338.6 534.9 L340.0 534.9 L456.9 535.1 L597.1 535.4 L600.0 535.4 L716.9 535.4 L857.1 535.6 L860.0 535.5 L1005.5 535.8 L1131.0 535.8 L1131.0 541.0 L81.0 541.0 Z" fill="#ff6600" fill-opacity="0.25"/>
<path id="sMonero" d="M81.0 535.1 L141.1 535.1 L152.8 534.9 L265.0 534.9 L338.6 534.9 L340.0 534.9 L456.9 535.1 L597.1 535.4 L600.0 535.4 L716.9 535.4 L857.1 535.6 L860.0 535.5 L1005.5 535.8 L1131.0 535.8" fill="none"/>
<g fill="none" stroke-linejoin="round" stroke-linecap="round"><use href="#sMonero" stroke="#000" stroke-opacity="0.05" stroke-width="4" transform="translate(1 1)"/><use href="#sMonero" stroke="#000" stroke-opacity="0.13" stroke-width="2.4" transform="translate(1 1)"/><use href="#sMonero" stroke="#f46607" stroke-width="1.9"/></g>
<path d="M81.0 529.3 L85.0 527.7 L88.5 528.4 L92.0 530.0 L99.0 530.7 L106.1 531.2 L115.4 530.7 L124.8 530.2 L136.4 529.8 L141.1 529.3 L171.5 530.7 L218.3 531.2 L265.0 531.6 L311.8 531.6 L338.6 531.9 L340.0 531.2 L410.1 533.0 L421.8 532.3 L456.9 533.0 L527.0 531.9 L557.4 530.0 L573.8 529.3 L585.4 529.8 L597.1 530.0 L600.0 530.2 L611.7 530.2 L616.4 529.3 L623.4 530.0 L635.1 530.5 L640.9 529.5 L646.8 530.5 L670.1 531.2 L693.5 531.2 L728.6 531.2 L740.3 530.0 L746.1 529.3 L751.9 530.0 L763.6 530.5 L787.0 531.2 L810.4 531.9 L833.8 532.8 L857.1 533.0 L860.0 532.8 L874.5 532.1 L891.5 531.6 L908.5 532.6 L957.0 533.6 L1005.5 534.1 L1029.7 533.8 L1053.9 535.0 L1131.0 534.8 L1131.0 541.0 L81.0 541.0 Z" fill="#000000" fill-opacity="0.25"/>
<path id="sIOTA" d="M81.0 529.3 L85.0 527.7 L88.5 528.4 L92.0 530.0 L99.0 530.7 L106.1 531.2 L115.4 530.7 L124.8 530.2 L136.4 529.8 L141.1 529.3 L171.5 530.7 L218.3 531.2 L265.0 531.6 L311.8 531.6 L338.6 531.9 L340.0 531.2 L410.1 533.0 L421.8 532.3 L456.9 533.0 L527.0 531.9 L557.4 530.0 L573.8 529.3 L585.4 529.8 L597.1 530.0 L600.0 530.2 L611.7 530.2 L616.4 529.3 L623.4 530.0 L635.1 530.5 L640.9 529.5 L646.8 530.5 L670.1 531.2 L693.5 531.2 L728.6 531.2 L740.3 530.0 L746.1 529.3 L751.9 530.0 L763.6 530.5 L787.0 531.2 L810.4 531.9 L833.8 532.8 L857.1 533.0 L860.0 532.8 L874.5 532.1 L891.5 531.6 L908.5 532.6 L957.0 533.6 L1005.5 534.1 L1029.7 533.8 L1053.9 535.0 L1131.0 534.8" fill="none"/>
<g fill="none" stroke-linejoin="round" stroke-linecap="round"><use href="#sIOTA" stroke="#000" stroke-opacity="0.05" stroke-width="4" transform="translate(1 1)"/><use href="#sIOTA" stroke="#000" stroke-opacity="0.13" stroke-width="2.4" transform="translate(1 1)"/><use href="#sIOTA" stroke="#000000" stroke-width="1.9"/></g>
<path d="M81.0 535.4 L89.7 535.8 L101.4 535.8 L113.1 535.4 L117.7 533.5 L124.8 533.0 L134.1 532.3 L139.2 530.7 L142.3 528.4 L145.8 527.7 L150.5 528.8 L159.8 529.5 L171.5 530.0 L183.2 530.0 L194.9 530.0 L201.9 529.3 L205.4 527.7 L208.9 527.2 L215.9 527.7 L222.9 527.7 L229.9 528.4 L237.0 528.8 L241.6 527.7 L245.1 527.2 L251.0 527.7 L260.3 528.4 L269.7 528.4 L288.4 528.4 L300.1 528.4 L311.8 528.4 L323.4 528.4 L328.1 527.2 L332.8 527.0 L338.6 527.7 L340.0 526.5 L347.0 528.4 L354.0 529.3 L363.4 530.0 L375.1 530.7 L386.8 531.2 L398.4 531.2 L410.1 531.6 L421.8 531.2 L433.5 531.6 L456.9 532.3 L480.3 532.3 L503.6 532.3 L515.3 531.6 L527.0 531.2 L550.4 530.7 L573.8 530.7 L597.1 531.2 L600.0 531.2 L623.4 531.6 L670.1 532.3 L716.9 532.6 L763.6 532.3 L810.4 533.0 L857.1 534.0 L860.0 534.5 L896.4 534.1 L957.0 535.0 L1029.7 536.0 L1078.2 537.0 L1131.0 537.0 L1131.0 541.0 L81.0 541.0 Z" fill="#9acd14" fill-opacity="0.25"/>
<path id="sNEO" d="M81.0 535.4 L89.7 535.8 L101.4 535.8 L113.1 535.4 L117.7 533.5 L124.8 533.0 L134.1 532.3 L139.2 530.7 L142.3 528.4 L145.8 527.7 L150.5 528.8 L159.8 529.5 L171.5 530.0 L183.2 530.0 L194.9 530.0 L201.9 529.3 L205.4 527.7 L208.9 527.2 L215.9 527.7 L222.9 527.7 L229.9 528.4 L237.0 528.8 L241.6 527.7 L245.1 527.2 L251.0 527.7 L260.3 528.4 L269.7 528.4 L288.4 528.4 L300.1 528.4 L311.8 528.4 L323.4 528.4 L328.1 527.2 L332.8 527.0 L338.6 527.7 L340.0 526.5 L347.0 528.4 L354.0 529.3 L363.4 530.0 L375.1 530.7 L386.8 531.2 L398.4 531.2 L410.1 531.6 L421.8 531.2 L433.5 531.6 L456.9 532.3 L480.3 532.3 L503.6 532.3 L515.3 531.6 L527.0 531.2 L550.4 530.7 L573.8 530.7 L597.1 531.2 L600.0 531.2 L623.4 531.6 L670.1 532.3 L716.9 532.6 L763.6 532.3 L810.4 533.0 L857.1 534.0 L860.0 534.5 L896.4 534.1 L957.0 535.0 L1029.7 536.0 L1078.2 537.0 L1131.0 537.0" fill="none"/>
<g fill="none" stroke-linejoin="round" stroke-linecap="round"><use href="#sNEO" stroke="#000" stroke-opacity="0.05" stroke-width="4" transform="translate(1 1)"/><use href="#sNEO" stroke="#000" stroke-opacity="0.13" stroke-width="2.4" transform="translate(1 1)"/><use href="#sNEO" stroke="#96c61a" stroke-width="1.9"/></g>
<path d="M81.0 395.3 L83.8 389.4 L86.9 387.5 L89.7 388.2 L92.5 382.4 L95.5 376.6 L98.6 375.4 L101.4 382.4 L104.2 377.7 L107.2 372.6 L110.7 369.5 L114.2 364.9 L117.7 362.5 L120.5 366.0 L122.9 369.5 L125.9 370.2 L129.0 366.0 L131.8 361.4 L134.1 359.5 L136.9 363.7 L139.9 367.2 L143.0 368.4 L145.8 371.9 L149.3 375.4 L152.3 378.9 L154.7 374.2 L157.5 368.4 L161.0 367.9 L164.5 366.5 L166.8 365.6 L169.6 367.9 L172.7 370.2 L176.2 368.4 L179.7 367.9 L183.2 364.9 L186.7 361.8 L190.2 361.4 L193.7 359.0 L196.0 359.5 L199.6 361.8 L203.1 363.7 L206.6 366.0 L210.1 367.2 L213.1 367.7 L215.9 369.5 L218.3 372.6 L221.1 376.6 L224.1 372.6 L227.1 370.2 L229.9 369.5 L232.7 372.6 L235.8 375.4 L238.8 377.3 L241.2 379.6 L243.5 374.9 L246.3 375.4 L249.8 374.9 L252.8 374.2 L255.7 372.6 L258.5 375.4 L261.5 378.9 L264.5 377.3 L267.3 375.9 L270.8 375.4 L274.4 375.9 L277.9 377.7 L280.9 378.9 L284.9 378.4 L288.4 380.1 L291.9 381.2 L295.4 383.6 L298.9 386.6 L302.4 389.4 L305.9 390.1 L309.4 390.1 L312.9 388.9 L316.4 388.2 L319.9 388.9 L323.4 389.4 L326.9 390.6 L330.5 392.5 L334.0 393.6 L337.5 395.3 L340.0 395.3 L343.5 396.9 L347.0 399.2 L351.7 399.9 L356.4 400.6 L361.0 401.1 L365.7 402.3 L370.4 404.6 L374.6 408.6 L377.4 405.3 L380.9 404.6 L384.4 405.8 L387.9 406.9 L392.6 406.9 L397.3 405.8 L400.8 409.3 L404.3 408.1 L407.8 407.6 L411.3 410.5 L414.8 414.7 L418.3 411.6 L421.8 406.2 L425.3 403.0 L428.8 400.6 L432.3 399.9 L435.8 401.1 L439.3 398.8 L442.9 396.9 L446.4 396.0 L449.9 395.3 L453.4 396.0 L456.9 394.6 L460.4 392.5 L463.9 392.9 L467.4 391.8 L470.9 391.0 L475.6 390.6 L480.3 389.4 L484.9 388.7 L489.6 388.2 L494.3 387.8 L499.0 386.6 L503.6 385.9 L508.3 386.6 L513.0 385.9 L516.5 383.6 L520.0 380.1 L523.5 377.3 L527.0 375.9 L530.5 374.9 L534.0 375.9 L537.5 375.4 L541.0 374.2 L544.5 371.9 L548.0 369.5 L551.5 367.2 L555.1 365.6 L558.6 364.9 L562.1 367.2 L564.4 369.1 L567.9 367.9 L571.4 366.7 L574.9 365.6 L578.4 363.2 L581.9 363.7 L585.4 361.8 L588.9 358.6 L592.5 354.8 L596.0 350.8 L599.0 347.3 L600.0 345.2 L603.5 344.5 L607.0 345.9 L610.5 342.9 L614.0 341.7 L616.8 342.9 L619.9 348.2 L623.4 351.5 L626.9 353.4 L630.4 356.2 L633.9 355.2 L637.4 352.2 L640.9 348.7 L643.2 353.4 L646.8 354.5 L649.6 352.9 L652.6 358.1 L656.1 360.9 L659.6 358.5 L663.1 356.9 L667.8 356.4 L671.3 358.1 L674.8 360.4 L678.3 359.2 L681.8 360.4 L686.5 359.2 L691.2 358.5 L695.8 358.1 L699.3 359.9 L702.9 361.6 L706.4 364.6 L709.9 360.4 L714.5 359.9 L719.2 359.9 L723.9 360.4 L727.4 362.3 L730.9 362.7 L734.4 360.9 L737.9 360.4 L741.4 359.9 L744.9 360.4 L748.4 358.1 L751.5 356.4 L754.3 358.1 L757.8 359.9 L761.3 361.1 L766.0 360.4 L770.6 361.1 L775.3 362.7 L778.8 362.3 L782.3 364.6 L785.8 367.4 L788.9 369.7 L791.7 368.6 L795.2 371.6 L798.2 373.2 L801.0 371.6 L804.5 370.2 L809.2 370.2 L813.9 370.9 L818.6 372.1 L823.2 372.8 L827.9 373.9 L832.6 374.4 L836.1 376.8 L839.6 379.6 L842.6 382.6 L845.0 384.9 L847.8 383.3 L851.3 381.4 L854.8 383.3 L858.3 384.9 L860.0 384.4 L864.8 384.8 L869.7 383.2 L874.5 381.2 L879.4 378.8 L884.2 376.8 L887.9 378.1 L891.5 376.4 L895.2 377.6 L898.8 378.8 L903.6 377.6 L908.5 377.6 L913.3 379.3 L918.2 381.7 L923.0 383.2 L926.7 383.6 L930.3 381.7 L935.2 380.7 L940.0 379.3 L944.8 378.3 L949.7 377.6 L959.4 376.4 L969.1 375.9 L981.2 377.6 L993.3 380.0 L1005.5 382.4 L1017.6 384.8 L1029.7 389.7 L1041.8 395.8 L1053.9 399.4 L1066.1 403.5 L1078.2 404.5 L1090.3 405.0 L1102.4 405.5 L1114.5 405.0 L1120.6 403.5 L1125.5 401.8 L1131.0 400.6 L1131.0 541.0 L81.0 541.0 Z" fill="#dedede" fill-opacity="0.25"/>
<path id="sOthers" d="M81.0 395.3 L83.8 389.4 L86.9 387.5 L89.7 388.2 L92.5 382.4 L95.5 376.6 L98.6 375.4 L101.4 382.4 L104.2 377.7 L107.2 372.6 L110.7 369.5 L114.2 364.9 L117.7 362.5 L120.5 366.0 L122.9 369.5 L125.9 370.2 L129.0 366.0 L131.8 361.4 L134.1 359.5 L136.9 363.7 L139.9 367.2 L143.0 368.4 L145.8 371.9 L149.3 375.4 L152.3 378.9 L154.7 374.2 L157.5 368.4 L161.0 367.9 L164.5 366.5 L166.8 365.6 L169.6 367.9 L172.7 370.2 L176.2 368.4 L179.7 367.9 L183.2 364.9 L186.7 361.8 L190.2 361.4 L193.7 359.0 L196.0 359.5 L199.6 361.8 L203.1 363.7 L206.6 366.0 L210.1 367.2 L213.1 367.7 L215.9 369.5 L218.3 372.6 L221.1 376.6 L224.1 372.6 L227.1 370.2 L229.9 369.5 L232.7 372.6 L235.8 375.4 L238.8 377.3 L241.2 379.6 L243.5 374.9 L246.3 375.4 L249.8 374.9 L252.8 374.2 L255.7 372.6 L258.5 375.4 L261.5 378.9 L264.5 377.3 L267.3 375.9 L270.8 375.4 L274.4 375.9 L277.9 377.7 L280.9 378.9 L284.9 378.4 L288.4 380.1 L291.9 381.2 L295.4 383.6 L298.9 386.6 L302.4 389.4 L305.9 390.1 L309.4 390.1 L312.9 388.9 L316.4 388.2 L319.9 388.9 L323.4 389.4 L326.9 390.6 L330.5 392.5 L334.0 393.6 L337.5 395.3 L340.0 395.3 L343.5 396.9 L347.0 399.2 L351.7 399.9 L356.4 400.6 L361.0 401.1 L365.7 402.3 L370.4 404.6 L374.6 408.6 L377.4 405.3 L380.9 404.6 L384.4 405.8 L387.9 406.9 L392.6 406.9 L397.3 405.8 L400.8 409.3 L404.3 408.1 L407.8 407.6 L411.3 410.5 L414.8 414.7 L418.3 411.6 L421.8 406.2 L425.3 403.0 L428.8 400.6 L432.3 399.9 L435.8 401.1 L439.3 398.8 L442.9 396.9 L446.4 396.0 L449.9 395.3 L453.4 396.0 L456.9 394.6 L460.4 392.5 L463.9 392.9 L467.4 391.8 L470.9 391.0 L475.6 390.6 L480.3 389.4 L484.9 388.7 L489.6 388.2 L494.3 387.8 L499.0 386.6 L503.6 385.9 L508.3 386.6 L513.0 385.9 L516.5 383.6 L520.0 380.1 L523.5 377.3 L527.0 375.9 L530.5 374.9 L534.0 375.9 L537.5 375.4 L541.0 374.2 L544.5 371.9 L548.0 369.5 L551.5 367.2 L555.1 365.6 L558.6 364.9 L562.1 367.2 L564.4 369.1 L567.9 367.9 L571.4 366.7 L574.9 365.6 L578.4 363.2 L581.9 363.7 L585.4 361.8 L588.9 358.6 L592.5 354.8 L596.0 350.8 L599.0 347.3 L600.0 345.2 L603.5 344.5 L607.0 345.9 L610.5 342.9 L614.0 341.7 L616.8 342.9 L619.9 348.2 L623.4 351.5 L626.9 353.4 L630.4 356.2 L633.9 355.2 L637.4 352.2 L640.9 348.7 L643.2 353.4 L646.8 354.5 L649.6 352.9 L652.6 358.1 L656.1 360.9 L659.6 358.5 L663.1 356.9 L667.8 356.4 L671.3 358.1 L674.8 360.4 L678.3 359.2 L681.8 360.4 L686.5 359.2 L691.2 358.5 L695.8 358.1 L699.3 359.9 L702.9 361.6 L706.4 364.6 L709.9 360.4 L714.5 359.9 L719.2 359.9 L723.9 360.4 L727.4 362.3 L730.9 362.7 L734.4 360.9 L737.9 360.4 L741.4 359.9 L744.9 360.4 L748.4 358.1 L751.5 356.4 L754.3 358.1 L757.8 359.9 L761.3 361.1 L766.0 360.4 L770.6 361.1 L775.3 362.7 L778.8 362.3 L782.3 364.6 L785.8 367.4 L788.9 369.7 L791.7 368.6 L795.2 371.6 L798.2 373.2 L801.0 371.6 L804.5 370.2 L809.2 370.2 L813.9 370.9 L818.6 372.1 L823.2 372.8 L827.9 373.9 L832.6 374.4 L836.1 376.8 L839.6 379.6 L842.6 382.6 L845.0 384.9 L847.8 383.3 L851.3 381.4 L854.8 383.3 L858.3 384.9 L860.0 384.4 L864.8 384.8 L869.7 383.2 L874.5 381.2 L879.4 378.8 L884.2 376.8 L887.9 378.1 L891.5 376.4 L895.2 377.6 L898.8 378.8 L903.6 377.6 L908.5 377.6 L913.3 379.3 L918.2 381.7 L923.0 383.2 L926.7 383.6 L930.3 381.7 L935.2 380.7 L940.0 379.3 L944.8 378.3 L949.7 377.6 L959.4 376.4 L969.1 375.9 L981.2 377.6 L993.3 380.0 L1005.5 382.4 L1017.6 384.8 L1029.7 389.7 L1041.8 395.8 L1053.9 399.4 L1066.1 403.5 L1078.2 404.5 L1090.3 405.0 L1102.4 405.5 L1114.5 405.0 L1120.6 403.5 L1125.5 401.8 L1131.0 400.6" fill="none"/>
<g fill="none" stroke-linejoin="round" stroke-linecap="round"><use href="#sOthers" stroke="#000" stroke-opacity="0.05" stroke-width="4" transform="translate(1 1)"/><use href="#sOthers" stroke="#000" stroke-opacity="0.13" stroke-width="2.4" transform="translate(1 1)"/><use href="#sOthers" stroke="#e3e3e3" stroke-width="2.6"/></g>
</g>
<circle cx="1131.0" cy="154.8" r="10" fill="#f7931a" fill-opacity="0.25"/>
<circle cx="1131.0" cy="447.0" r="10" fill="#434a78" fill-opacity="0.25"/>
<circle cx="1131.0" cy="510.7" r="10" fill="#478f2d" fill-opacity="0.25"/>
<circle cx="1131.0" cy="529.9" r="10" fill="#8c8c8c" fill-opacity="0.25"/>
<circle cx="1131.0" cy="497.6" r="10" fill="#1aa3dd" fill-opacity="0.25"/>
<circle cx="1131.0" cy="536.3" r="10" fill="#0b72b5" fill-opacity="0.25"/>
<circle cx="1131.0" cy="538.2" r="10" fill="#f9b90f" fill-opacity="0.25"/>
<circle cx="1131.0" cy="535.9" r="10" fill="#ff6600" fill-opacity="0.25"/>
<circle cx="1131.0" cy="534.8" r="10" fill="#000000" fill-opacity="0.25"/>
<circle cx="1131.0" cy="537.1" r="10" fill="#9acd14" fill-opacity="0.25"/>
<circle cx="1131.0" cy="401.0" r="10" fill="#dedede" fill-opacity="0.25"/>
<circle cx="1131.0" cy="154.8" r="4.0" fill="#f7931a" stroke="#ffffff" stroke-opacity="0.6" stroke-width="1"/>
<path d="M1131.0 443.0 L1135.0 447.0 L1131.0 451.0 L1127.0 447.0 Z" fill="#434a78" stroke="#ffffff" stroke-opacity="0.6" stroke-width="1"/>
<rect x="1127.0" y="506.7" width="8.0" height="8.0" fill="#478f2d" stroke="#ffffff" stroke-opacity="0.6" stroke-width="1"/>
<path d="M1127.0 493.6 L1135.0 493.6 L1131.0 501.6 Z" fill="#1aa3dd" stroke="#ffffff" stroke-opacity="0.6" stroke-width="1"/>
<path d="M1127.0 533.1 L1135.0 533.1 L1131.0 541.1 Z" fill="#9acd14" stroke="#ffffff" stroke-opacity="0.6" stroke-width="1"/>
<circle cx="1131.0" cy="401.0" r="4.0" fill="#dedede" stroke="#ffffff" stroke-opacity="0.6" stroke-width="1"/>
<filter id="sh" x="-10%" y="-10%" width="120%" height="120%"><feGaussianBlur stdDeviation="1.5"/></filter>
<rect x="951.5" y="197" width="166" height="217" rx="3" fill="#000" fill-opacity="0.22" filter="url(#sh)"/>
<rect x="950.5" y="195.500" width="166" height="217" rx="3" fill="#ffffff" fill-opacity="0.95" stroke="#f6eadb" stroke-width="1"/>
<text class="jp" x="962" y="220" font-size="10" letter-spacing="0.6" fill="#333">水曜日, 8月 29, 00:00-11:59</text>
<circle cx="967" cy="231.8" r="3.6" fill="#f7931a"/>
<text x="977" y="236" font-size="12" letter-spacing="0.9" fill="#333">Bitcoin: <tspan font-weight="bold">52.81%</tspan></text>
<circle cx="967" cy="247.8" r="3.6" fill="#434a78"/>
<text x="977" y="252" font-size="12" letter-spacing="0.9" fill="#333">Ethereum: <tspan font-weight="bold">12.90%</tspan></text>
<circle cx="967" cy="263.8" r="3.6" fill="#478f2d"/>
<text x="977" y="268" font-size="12" letter-spacing="0.9" fill="#333">Bitcoin Cash: <tspan font-weight="bold">4.19%</tspan></text>
<circle cx="967" cy="279.8" r="3.6" fill="#8c8c8c"/>
<text x="977" y="284" font-size="12" letter-spacing="0.9" fill="#333">Litecoin: <tspan font-weight="bold">1.57%</tspan></text>
<circle cx="967" cy="295.8" r="3.6" fill="#1aa3dd"/>
<text x="977" y="300" font-size="12" letter-spacing="0.9" fill="#333">Ripple: <tspan font-weight="bold">5.99%</tspan></text>
<circle cx="967" cy="311.8" r="3.6" fill="#0b72b5"/>
<text x="977" y="316" font-size="12" letter-spacing="0.9" fill="#333">Dash: <tspan font-weight="bold">0.69%</tspan></text>
<circle cx="967" cy="327.8" r="3.6" fill="#f9b90f"/>
<text x="977" y="332" font-size="12" letter-spacing="0.9" fill="#333">NEM: <tspan font-weight="bold">0.44%</tspan></text>
<circle cx="967" cy="343.8" r="3.6" fill="#ff6600"/>
<text x="977" y="348" font-size="12" letter-spacing="0.9" fill="#333">Monero: <tspan font-weight="bold">0.75%</tspan></text>
<circle cx="967" cy="359.8" r="3.6" fill="#000000"/>
<text x="977" y="364" font-size="12" letter-spacing="0.9" fill="#333">IOTA: <tspan font-weight="bold">0.90%</tspan></text>
<circle cx="967" cy="375.8" r="3.6" fill="#9acd14"/>
<text x="977" y="380" font-size="12" letter-spacing="0.9" fill="#333">NEO: <tspan font-weight="bold">0.59%</tspan></text>
<circle cx="967" cy="391.8" r="3.6" fill="#dedede"/>
<text x="977" y="396" font-size="12" letter-spacing="0.9" fill="#333">Others: <tspan font-weight="bold">19.18%</tspan></text>
<path d="M95.3 593.7 L106.2 593.1 L118.6 592.8 L131.1 594.4 L143.6 595.3 L156.0 595.3 L168.5 595.9 L176.3 596.8 L182.5 595.3 L193.5 593.7 L202.8 592.8 L205.9 594.4 L209.0 597.5 L213.7 597.5 L218.4 596.5 L223.1 598.1 L227.7 597.5 L237.1 596.8 L249.6 596.5 L255.8 597.5 L258.9 599.7 L262.0 598.4 L271.4 597.5 L283.9 596.5 L299.4 595.9 L311.9 595.0 L324.4 594.4 L336.8 594.4 L346.2 594.4 L355.5 595.9 L368.0 596.8 L380.5 596.5 L393.0 595.9 L399.2 596.8 L405.4 599.0 L410.1 602.1 L414.8 602.8 L421.0 602.1 L427.2 601.2 L430.0 600.6 L439.4 599.0 L448.7 597.5 L458.1 596.8 L470.5 596.8 L483.0 596.5 L489.2 596.5 L497.0 598.1 L504.8 599.0 L511.0 600.0 L518.8 599.0 L526.6 598.4 L536.0 599.0 L545.3 599.7 L554.7 599.0 L564.0 598.1 L573.4 596.8 L582.7 595.9 L592.1 595.9 L601.4 595.3 L610.8 595.3 L617.0 595.9 L624.8 596.8 L632.6 599.0 L638.9 600.0 L645.1 602.1 L648.2 603.1 L654.4 602.1 L660.7 602.1 L666.9 600.6 L673.1 600.0 L679.4 601.2 L684.1 602.1 L690.3 601.2 L698.1 599.7 L704.3 600.0 L710.5 600.0 L716.8 601.2 L726.1 601.5 L735.5 601.5 L744.8 602.1 L754.2 602.1 L763.5 601.2 L772.9 600.0 L782.2 599.0 L785.0 598.4 L792.8 597.5 L799.0 596.8 L803.7 598.4 L813.1 599.0 L822.4 598.4 L830.0 598.3 L834.4 598.6 L837.4 599.5 L839.6 602.0 L841.8 604.9 L844.7 607.1 L848.4 608.6 L852.1 607.4 L855.0 607.1 L858.0 608.6 L860.9 608.9 L863.9 610.8 L866.8 613.3 L869.7 615.2 L872.7 616.7 L875.6 619.2 L878.6 618.2 L881.5 619.6 L884.5 620.1 L887.4 622.1 L889.6 623.6 L891.8 623.3 L894.8 622.6 L897.7 622.1 L900.7 620.7 L903.6 619.2 L906.5 618.9 L909.5 618.2 L911.7 616.7 L913.9 618.9 L916.1 619.6 L918.3 618.6 L920.5 617.4 L922.7 618.9 L925.7 619.6 L928.6 620.1 L931.6 619.2 L936.0 618.9 L940.4 618.6 L944.8 618.6 L947.8 617.4 L950.7 615.7 L953.6 614.5 L956.6 613.3 L959.5 613.3 L962.5 611.6 L964.7 611.6 L966.9 614.5 L968.4 616.0 L970.6 614.2 L972.8 615.2 L975.0 616.0 L977.2 614.5 L979.4 613.3 L981.6 611.3 L983.8 613.8 L986.0 617.1 L988.2 619.6 L990.4 621.1 L991.5 621.1 L994.1 623.7 L998.0 625.7 L1001.9 625.9 L1005.8 625.4 L1011.0 625.0 L1016.2 624.6 L1021.4 623.7 L1026.6 622.0 L1031.8 620.5 L1036.9 619.6 L1042.1 619.2 L1046.0 619.8 L1049.9 621.5 L1053.8 623.3 L1059.0 624.4 L1064.2 624.1 L1069.4 623.1 L1074.6 622.8 L1079.8 622.4 L1085.0 621.5 L1088.9 620.5 L1092.8 620.7 L1096.7 620.2 L1099.3 619.2 L1103.2 618.1 L1107.1 618.1 L1109.7 617.2 L1111.6 615.9 L1113.6 615.0 L1118.5 614.0 L1118.5 630.0 L95.3 630.0 Z" fill="#f7931a" fill-opacity="0.1"/>
<path d="M95.3 593.7 L106.2 593.1 L118.6 592.8 L131.1 594.4 L143.6 595.3 L156.0 595.3 L168.5 595.9 L176.3 596.8 L182.5 595.3 L193.5 593.7 L202.8 592.8 L205.9 594.4 L209.0 597.5 L213.7 597.5 L218.4 596.5 L223.1 598.1 L227.7 597.5 L237.1 596.8 L249.6 596.5 L255.8 597.5 L258.9 599.7 L262.0 598.4 L271.4 597.5 L283.9 596.5 L299.4 595.9 L311.9 595.0 L324.4 594.4 L336.8 594.4 L346.2 594.4 L355.5 595.9 L368.0 596.8 L380.5 596.5 L393.0 595.9 L399.2 596.8 L405.4 599.0 L410.1 602.1 L414.8 602.8 L421.0 602.1 L427.2 601.2 L430.0 600.6 L439.4 599.0 L448.7 597.5 L458.1 596.8 L470.5 596.8 L483.0 596.5 L489.2 596.5 L497.0 598.1 L504.8 599.0 L511.0 600.0 L518.8 599.0 L526.6 598.4 L536.0 599.0 L545.3 599.7 L554.7 599.0 L564.0 598.1 L573.4 596.8 L582.7 595.9 L592.1 595.9 L601.4 595.3 L610.8 595.3 L617.0 595.9 L624.8 596.8 L632.6 599.0 L638.9 600.0 L645.1 602.1 L648.2 603.1 L654.4 602.1 L660.7 602.1 L666.9 600.6 L673.1 600.0 L679.4 601.2 L684.1 602.1 L690.3 601.2 L698.1 599.7 L704.3 600.0 L710.5 600.0 L716.8 601.2 L726.1 601.5 L735.5 601.5 L744.8 602.1 L754.2 602.1 L763.5 601.2 L772.9 600.0 L782.2 599.0 L785.0 598.4 L792.8 597.5 L799.0 596.8 L803.7 598.4 L813.1 599.0 L822.4 598.4 L830.0 598.3 L834.4 598.6 L837.4 599.5 L839.6 602.0 L841.8 604.9 L844.7 607.1 L848.4 608.6 L852.1 607.4 L855.0 607.1 L858.0 608.6 L860.9 608.9 L863.9 610.8 L866.8 613.3 L869.7 615.2 L872.7 616.7 L875.6 619.2 L878.6 618.2 L881.5 619.6 L884.5 620.1 L887.4 622.1 L889.6 623.6 L891.8 623.3 L894.8 622.6 L897.7 622.1 L900.7 620.7 L903.6 619.2 L906.5 618.9 L909.5 618.2 L911.7 616.7 L913.9 618.9 L916.1 619.6 L918.3 618.6 L920.5 617.4 L922.7 618.9 L925.7 619.6 L928.6 620.1 L931.6 619.2 L936.0 618.9 L940.4 618.6 L944.8 618.6 L947.8 617.4 L950.7 615.7 L953.6 614.5 L956.6 613.3 L959.5 613.3 L962.5 611.6 L964.7 611.6 L966.9 614.5 L968.4 616.0 L970.6 614.2 L972.8 615.2 L975.0 616.0 L977.2 614.5 L979.4 613.3 L981.6 611.3 L983.8 613.8 L986.0 617.1 L988.2 619.6 L990.4 621.1 L991.5 621.1 L994.1 623.7 L998.0 625.7 L1001.9 625.9 L1005.8 625.4 L1011.0 625.0 L1016.2 624.6 L1021.4 623.7 L1026.6 622.0 L1031.8 620.5 L1036.9 619.6 L1042.1 619.2 L1046.0 619.8 L1049.9 621.5 L1053.8 623.3 L1059.0 624.4 L1064.2 624.1 L1069.4 623.1 L1074.6 622.8 L1079.8 622.4 L1085.0 621.5 L1088.9 620.5 L1092.8 620.7 L1096.7 620.2 L1099.3 619.2 L1103.2 618.1 L1107.1 618.1 L1109.7 617.2 L1111.6 615.9 L1113.6 615.0 L1118.5 614.0" fill="none" stroke="#000" stroke-opacity="0.1" stroke-width="2.5" transform="translate(0.7 0.7)"/>
<path d="M95.3 593.7 L106.2 593.1 L118.6 592.8 L131.1 594.4 L143.6 595.3 L156.0 595.3 L168.5 595.9 L176.3 596.8 L182.5 595.3 L193.5 593.7 L202.8 592.8 L205.9 594.4 L209.0 597.5 L213.7 597.5 L218.4 596.5 L223.1 598.1 L227.7 597.5 L237.1 596.8 L249.6 596.5 L255.8 597.5 L258.9 599.7 L262.0 598.4 L271.4 597.5 L283.9 596.5 L299.4 595.9 L311.9 595.0 L324.4 594.4 L336.8 594.4 L346.2 594.4 L355.5 595.9 L368.0 596.8 L380.5 596.5 L393.0 595.9 L399.2 596.8 L405.4 599.0 L410.1 602.1 L414.8 602.8 L421.0 602.1 L427.2 601.2 L430.0 600.6 L439.4 599.0 L448.7 597.5 L458.1 596.8 L470.5 596.8 L483.0 596.5 L489.2 596.5 L497.0 598.1 L504.8 599.0 L511.0 600.0 L518.8 599.0 L526.6 598.4 L536.0 599.0 L545.3 599.7 L554.7 599.0 L564.0 598.1 L573.4 596.8 L582.7 595.9 L592.1 595.9 L601.4 595.3 L610.8 595.3 L617.0 595.9 L624.8 596.8 L632.6 599.0 L638.9 600.0 L645.1 602.1 L648.2 603.1 L654.4 602.1 L660.7 602.1 L666.9 600.6 L673.1 600.0 L679.4 601.2 L684.1 602.1 L690.3 601.2 L698.1 599.7 L704.3 600.0 L710.5 600.0 L716.8 601.2 L726.1 601.5 L735.5 601.5 L744.8 602.1 L754.2 602.1 L763.5 601.2 L772.9 600.0 L782.2 599.0 L785.0 598.4 L792.8 597.5 L799.0 596.8 L803.7 598.4 L813.1 599.0 L822.4 598.4 L830.0 598.3 L834.4 598.6 L837.4 599.5 L839.6 602.0 L841.8 604.9 L844.7 607.1 L848.4 608.6 L852.1 607.4 L855.0 607.1 L858.0 608.6 L860.9 608.9 L863.9 610.8 L866.8 613.3 L869.7 615.2 L872.7 616.7 L875.6 619.2 L878.6 618.2 L881.5 619.6 L884.5 620.1 L887.4 622.1 L889.6 623.6 L891.8 623.3 L894.8 622.6 L897.7 622.1 L900.7 620.7 L903.6 619.2 L906.5 618.9 L909.5 618.2 L911.7 616.7 L913.9 618.9 L916.1 619.6 L918.3 618.6 L920.5 617.4 L922.7 618.9 L925.7 619.6 L928.6 620.1 L931.6 619.2 L936.0 618.9 L940.4 618.6 L944.8 618.6 L947.8 617.4 L950.7 615.7 L953.6 614.5 L956.6 613.3 L959.5 613.3 L962.5 611.6 L964.7 611.6 L966.9 614.5 L968.4 616.0 L970.6 614.2 L972.8 615.2 L975.0 616.0 L977.2 614.5 L979.4 613.3 L981.6 611.3 L983.8 613.8 L986.0 617.1 L988.2 619.6 L990.4 621.1 L991.5 621.1 L994.1 623.7 L998.0 625.7 L1001.9 625.9 L1005.8 625.4 L1011.0 625.0 L1016.2 624.6 L1021.4 623.7 L1026.6 622.0 L1031.8 620.5 L1036.9 619.6 L1042.1 619.2 L1046.0 619.8 L1049.9 621.5 L1053.8 623.3 L1059.0 624.4 L1064.2 624.1 L1069.4 623.1 L1074.6 622.8 L1079.8 622.4 L1085.0 621.5 L1088.9 620.5 L1092.8 620.7 L1096.7 620.2 L1099.3 619.2 L1103.2 618.1 L1107.1 618.1 L1109.7 617.2 L1111.6 615.9 L1113.6 615.0 L1118.5 614.0" fill="none" stroke="#e5983a" stroke-width="1.6" stroke-linejoin="round"/>
<path d="M223.5 590 V630" stroke="#e6e6e6" stroke-width="1"/>
<text x="227.0" y="626" font-size="11" letter-spacing="0.7" fill="#999">2014</text>
<path d="M415.5 590 V630" stroke="#e6e6e6" stroke-width="1"/>
<text x="419.0" y="626" font-size="11" letter-spacing="0.7" fill="#999">2015</text>
<path d="M607.5 590 V630" stroke="#e6e6e6" stroke-width="1"/>
<text x="611.0" y="626" font-size="11" letter-spacing="0.7" fill="#999">2016</text>
<path d="M799.5 590 V630" stroke="#e6e6e6" stroke-width="1"/>
<text x="803.0" y="626" font-size="11" letter-spacing="0.7" fill="#999">2017</text>
<path d="M991.5 590 V630" stroke="#e6e6e6" stroke-width="1"/>
<text x="995.0" y="626" font-size="11" letter-spacing="0.7" fill="#999">2018</text>
<rect x="991" y="590" width="127.500" height="40" fill="#6685c2" fill-opacity="0.3"/>
<path d="M81 590.500 H1133" stroke="#cccccc" stroke-width="1"/>
<path d="M991.5 590 V630 M1118.500 590 V630" stroke="#cccccc" stroke-width="1"/>
<rect x="987.5" y="602.500" width="8" height="15" fill="#f2f2f2" stroke="#999999" stroke-width="1"/>
<path d="M990.5 606 V614 M992.5 606 V614" stroke="#999999" stroke-width="1"/>
<rect x="1114.5" y="602.500" width="8" height="15" fill="#f2f2f2" stroke="#999999" stroke-width="1"/>
<path d="M1117.5 606 V614 M1119.5 606 V614" stroke="#999999" stroke-width="1"/>
<rect x="81" y="630" width="1051" height="15" fill="#f2f2f2"/>
<rect x="80.500" y="630.500" width="14" height="14" fill="#e6e6e6" stroke="#cccccc"/>
<path d="M89.200 635.200 V640.800 L86.200 638 Z" fill="#333"/>
<rect x="1119.500" y="630.500" width="13" height="14" fill="#e6e6e6" stroke="#cccccc"/>
<path d="M1125.200 635.200 V640.800 L1128.200 638 Z" fill="#333"/>
<rect x="991.5" y="630.500" width="127" height="14" fill="#cccccc" stroke="#cccccc"/>
<path d="M1052.5 634.500 V640 M1055.500 634.500 V640 M1058.500 634.500 V640" stroke="#333" stroke-width="1"/>
<circle cx="134.9" cy="667" r="6" fill="#f7931a"/>
<text x="149.0" y="671.500" font-size="12" font-weight="bold" fill="#6a93cf">Bitcoin</text>
<circle cx="216.9" cy="667" r="6" fill="#434a78"/>
<text x="231.0" y="671.500" font-size="12" font-weight="bold" fill="#6a93cf">Ethereum</text>
<circle cx="315.7" cy="667" r="6" fill="#478f2d"/>
<text x="330.0" y="671.500" font-size="12" font-weight="bold" fill="#6a93cf">Bitcoin Cash</text>
<circle cx="431.7" cy="667" r="6" fill="#8c8c8c"/>
<text x="445.0" y="671.500" font-size="12" font-weight="bold" fill="#6a93cf">Litecoin</text>
<circle cx="520.5" cy="667" r="6" fill="#1aa3dd"/>
<text x="534.2" y="671.500" font-size="12" font-weight="bold" fill="#6a93cf">Ripple</text>
<circle cx="600.0" cy="667" r="6" fill="#0b72b5"/>
<text x="614.0" y="671.500" font-size="12" font-weight="bold" fill="#6a93cf">Dash</text>
<circle cx="671.4" cy="667" r="6" fill="#f9b90f"/>
<text x="685.7" y="671.500" font-size="12" font-weight="bold" fill="#6a93cf">NEM</text>
<circle cx="739.3" cy="667" r="6" fill="#ff6600"/>
<text x="753.3" y="671.500" font-size="12" font-weight="bold" fill="#6a93cf">Monero</text>
<circle cx="827.1" cy="667" r="6" fill="#000000"/>
<text x="841.1" y="671.500" font-size="12" font-weight="bold" fill="#6a93cf">IOTA</text>
<circle cx="899.4" cy="667" r="6" fill="#9acd14"/>
<text x="913.5" y="671.500" font-size="12" font-weight="bold" fill="#6a93cf">NEO</text>
<circle cx="967.0" cy="667" r="6" fill="#dedede"/>
<text x="981.0" y="671.500" font-size="12" font-weight="bold" fill="#6a93cf">Others</text>
<text x="1132.500" y="693" text-anchor="end" font-size="10" fill="#999999">coinmarketcap.com</text>
</svg></body></html>
